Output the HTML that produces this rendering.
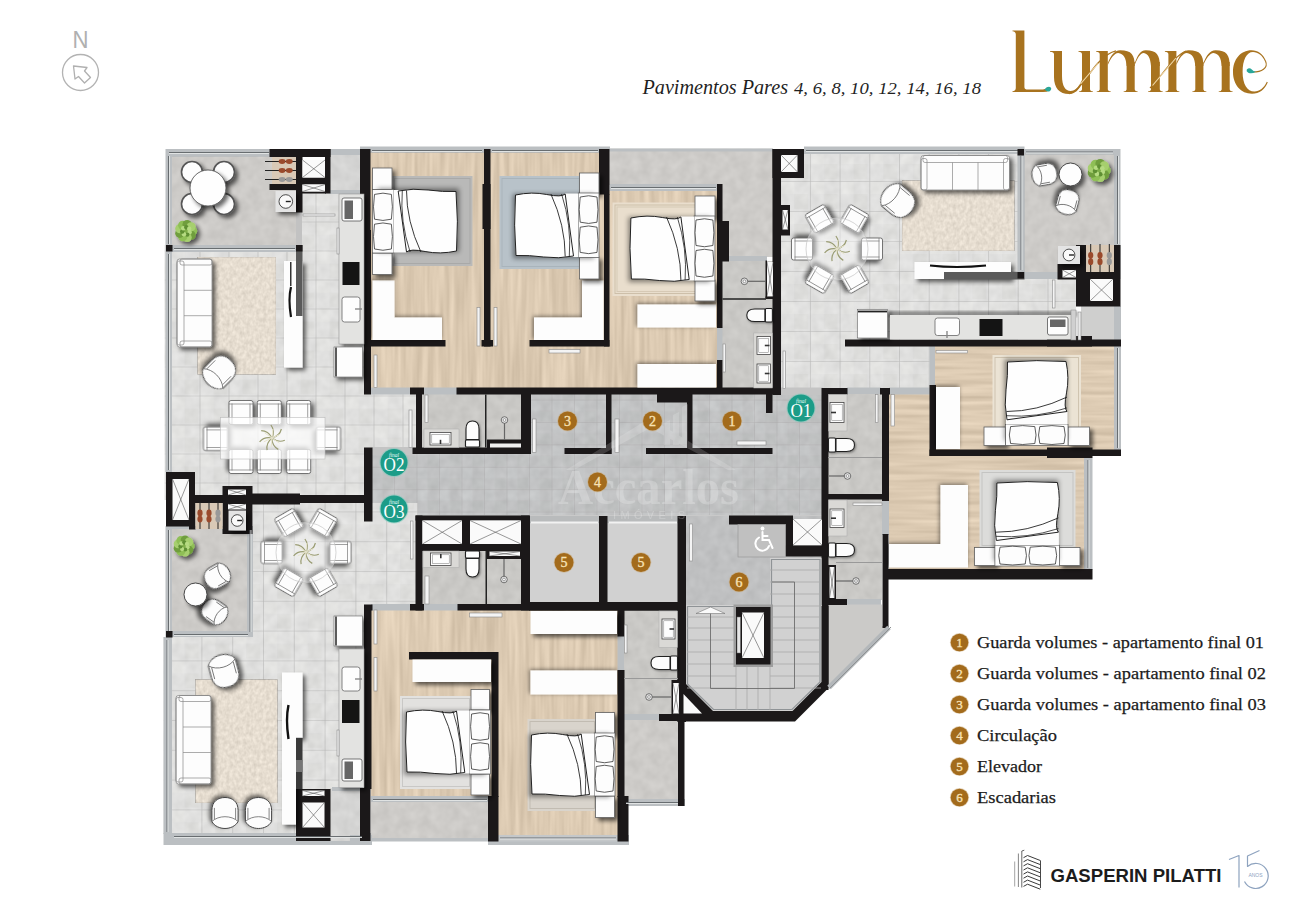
<!DOCTYPE html><html><head><meta charset="utf-8"><style>html,body{margin:0;padding:0;background:#fff;width:1300px;height:919px;overflow:hidden}svg{display:block}</style></head><body><svg width="1300" height="919" viewBox="0 0 1300 919">
<defs>
<pattern id="tile" width="29" height="29" patternUnits="userSpaceOnUse" x="170.5" y="250.5">
<rect width="29" height="29" fill="#e0e0df"/>
<rect x="1" y="1" width="13" height="12" fill="#e4e4e3" opacity=".6"/>
<rect x="14" y="13" width="14" height="15" fill="#d8d8d7" opacity=".6"/>
<path d="M0 0H29 M0 0V29" stroke="#b9b9b8" stroke-width="1.2"/>
</pattern>
<pattern id="tile1" width="29.7" height="30" patternUnits="userSpaceOnUse" x="780.2" y="151">
<rect width="29.7" height="30" fill="#e0e0df"/>
<rect x="1" y="1" width="13" height="12" fill="#e4e4e3" opacity=".6"/>
<rect x="14" y="13" width="14" height="15" fill="#d8d8d7" opacity=".6"/>
<path d="M0 0H29.7 M0 0V30" stroke="#b9b9b8" stroke-width="1.2"/>
</pattern>
<pattern id="tile3" width="30.8" height="29.8" patternUnits="userSpaceOnUse" x="170.6" y="511.4">
<rect width="30.8" height="29.8" fill="#e0e0df"/>
<rect x="1" y="1" width="13" height="12" fill="#e4e4e3" opacity=".6"/>
<rect x="14" y="13" width="14" height="15" fill="#d8d8d7" opacity=".6"/>
<path d="M0 0H30.8 M0 0V29.8" stroke="#b9b9b8" stroke-width="1.2"/>
</pattern>
<pattern id="tileC" width="22.5" height="22.4" patternUnits="userSpaceOnUse" x="371.5" y="399.6">
<rect width="22.5" height="22.4" fill="#c1c2c3"/>
<rect x="1" y="1" width="10" height="10" fill="#c7c8c9" opacity=".6"/>
<rect x="11" y="11" width="11" height="11" fill="#bbbcbd" opacity=".6"/>
<path d="M0 0H22.5M0 0V22.4" stroke="#acadae" stroke-width=".9"/>
</pattern>
<pattern id="rug" width="6" height="9" patternUnits="userSpaceOnUse">
<rect width="6" height="9" fill="#e5d9c7"/>
<rect x="1" y="1" width="1.5" height="4" fill="#ede4d6"/>
<rect x="4" y="4" width="1.2" height="4" fill="#dccdb7"/>
</pattern>
<filter id="sh" x="-30%" y="-30%" width="170%" height="170%">
<feGaussianBlur in="SourceAlpha" stdDeviation="2.2"/>
<feOffset dx="2.5" dy="2.5"/>
<feComponentTransfer><feFuncA type="linear" slope=".6"/></feComponentTransfer>
<feMerge><feMergeNode/><feMergeNode in="SourceGraphic"/></feMerge>
</filter>
<filter id="shs" x="-30%" y="-30%" width="170%" height="170%">
<feGaussianBlur in="SourceAlpha" stdDeviation="1.2"/>
<feOffset dx="1" dy="1"/>
<feComponentTransfer><feFuncA type="linear" slope=".4"/></feComponentTransfer>
<feMerge><feMergeNode/><feMergeNode in="SourceGraphic"/></feMerge>
</filter>
<filter id="sh2" x="-30%" y="-30%" width="170%" height="170%">
<feGaussianBlur in="SourceAlpha" stdDeviation="2.2"/>
<feOffset dx="-1.5" dy="-1.500000"/>
<feComponentTransfer><feFuncA type="linear" slope=".5"/></feComponentTransfer>
<feMerge><feMergeNode/><feMergeNode in="SourceGraphic"/></feMerge>
</filter>
<filter id="grain" x="0" y="0" width="100%" height="100%" color-interpolation-filters="sRGB">
<feTurbulence type="fractalNoise" baseFrequency="0.2 0.012" numOctaves="2" seed="4" result="t"/>
<feColorMatrix in="t" type="matrix" values="1 0 0 0 0 1 0 0 0 0 1 0 0 0 0 0 0 0 0 1" result="g"/>
<feComposite in="SourceGraphic" in2="g" operator="arithmetic" k1="0" k2="1" k3=".17" k4="-.085" result="c"/>
<feComposite in="c" in2="SourceGraphic" operator="in"/>
</filter>
<filter id="grainH" x="0" y="0" width="100%" height="100%" color-interpolation-filters="sRGB">
<feTurbulence type="fractalNoise" baseFrequency="0.012 0.2" numOctaves="2" seed="7" result="t"/>
<feColorMatrix in="t" type="matrix" values="1 0 0 0 0 1 0 0 0 0 1 0 0 0 0 0 0 0 0 1" result="g"/>
<feComposite in="SourceGraphic" in2="g" operator="arithmetic" k1="0" k2="1" k3=".17" k4="-.085" result="c"/>
<feComposite in="c" in2="SourceGraphic" operator="in"/>
</filter>
<filter id="mott" x="0" y="0" width="100%" height="100%" color-interpolation-filters="sRGB">
<feTurbulence type="fractalNoise" baseFrequency="0.1 0.1" numOctaves="2" seed="9" result="t"/>
<feColorMatrix in="t" type="matrix" values="1 0 0 0 0 1 0 0 0 0 1 0 0 0 0 0 0 0 0 1" result="g"/>
<feComposite in="SourceGraphic" in2="g" operator="arithmetic" k1="0" k2="1" k3=".08" k4="-.04" result="c"/>
<feComposite in="c" in2="SourceGraphic" operator="in"/>
</filter>
<filter id="rugf" x="0" y="0" width="100%" height="100%" color-interpolation-filters="sRGB">
<feTurbulence type="fractalNoise" baseFrequency="0.3 0.22" numOctaves="2" seed="2" result="t"/>
<feColorMatrix in="t" type="matrix" values="1 0 0 0 0 1 0 0 0 0 1 0 0 0 0 0 0 0 0 1" result="g"/>
<feComposite in="SourceGraphic" in2="g" operator="arithmetic" k1="0" k2="1" k3=".16" k4="-.08" result="c"/>
<feComposite in="c" in2="SourceGraphic" operator="in"/>
</filter>
<filter id="blur1"><feGaussianBlur stdDeviation="1.2"/></filter>
<filter id="blur2"><feGaussianBlur stdDeviation="2.5"/></filter>
</defs>
<rect width="1300" height="919" fill="#fff"/>

<rect x="165.5" y="149.0" width="136.5" height="103.0" fill="#bbbfc2" />
<rect x="172.0" y="156.5" width="124.0" height="88.5" fill="#cdcbc8" filter="url(#mott)"/>
<rect x="296.0" y="212.0" width="6.0" height="33.0" fill="#c2c2c2" />
<rect x="164.5" y="245.0" width="199.5" height="255.0" fill="url(#tile)" filter="url(#mott)"/>
<rect x="302.0" y="190.0" width="62.0" height="56.0" fill="url(#tile)" filter="url(#mott)"/>
<rect x="364.0" y="394.0" width="54.0" height="55.0" fill="url(#tile)" filter="url(#mott)"/>
<rect x="165.5" y="252.0" width="6.5" height="220.0" fill="#bbbfc2" />
<rect x="165.5" y="245.0" width="136.5" height="7.0" fill="#bbbfc2" />
<rect x="330.0" y="149.0" width="31.0" height="42.0" fill="#d4d4d3" filter="url(#mott)"/>
<rect x="330.0" y="149.0" width="31.0" height="6.0" fill="#bbbfc2" />
<rect x="330.0" y="190.0" width="31.0" height="4.0" fill="#bbbfc2" />
<rect x="360.0" y="146.5" width="250.0" height="6.5" fill="#bbbfc2" />
<rect x="370.0" y="152.5" width="114.0" height="194.5" fill="#dccab2" filter="url(#grain)"/>
<rect x="490.0" y="152.5" width="114.0" height="194.5" fill="#dccab2" filter="url(#grain)"/>
<rect x="370.0" y="345.0" width="350.0" height="43.5" fill="#dccab2" filter="url(#grain)"/>
<rect x="609.0" y="190.0" width="109.0" height="156.0" fill="#dccab2" filter="url(#grain)"/>
<rect x="609.0" y="148.5" width="164.0" height="36.5" fill="#cdcbc8" filter="url(#mott)"/>
<rect x="609.0" y="148.5" width="164.0" height="3.0" fill="#bbbfc2" />
<rect x="722.0" y="184.0" width="51.0" height="73.0" fill="#cdcbc8" filter="url(#mott)"/>
<rect x="609.5" y="184.0" width="107.5" height="7.0" fill="#bbbfc2" />
<rect x="722.0" y="256.0" width="45.0" height="5.5" fill="#bbbfc2" />
<rect x="722.0" y="261.0" width="51.0" height="127.0" fill="#c9c8c5" filter="url(#mott)"/>
<rect x="717.0" y="327.0" width="5.5" height="34.0" fill="#bbbfc2" />
<rect x="422.0" y="394.0" width="99.0" height="54.0" fill="#c9c8c5" filter="url(#mott)"/>
<rect x="371.0" y="387.5" width="39.0" height="7.0" fill="#bbbfc2" />
<rect x="424.0" y="387.5" width="33.0" height="7.0" fill="#bbbfc2" />
<rect x="372.0" y="454.0" width="451.0" height="62.0" fill="url(#tileC)" filter="url(#mott)"/>
<rect x="531.0" y="394.0" width="292.0" height="61.0" fill="url(#tileC)" filter="url(#mott)"/>
<rect x="372.0" y="515.0" width="451.0" height="6.0" fill="#c9c9c9" />
<rect x="372.0" y="447.0" width="41.0" height="8.0" fill="#c4c4c4" />
<rect x="686.0" y="516.0" width="136.0" height="90.0" fill="#bfc0c1" filter="url(#mott)"/>
<rect x="804.0" y="146.5" width="220.5" height="8.0" fill="#bbbfc2" />
<rect x="781.0" y="154.0" width="237.0" height="187.0" fill="url(#tile1)" filter="url(#mott)"/>
<rect x="1017.5" y="279.0" width="58.5" height="37.0" fill="url(#tile1)" filter="url(#mott)"/>
<rect x="781.0" y="340.0" width="149.0" height="48.5" fill="url(#tile1)" filter="url(#mott)"/>
<rect x="1017.5" y="149.0" width="103.0" height="130.0" fill="#bbbfc2" />
<rect x="1024.5" y="154.5" width="89.5" height="117.5" fill="#cdcbc8" filter="url(#mott)"/>
<rect x="1081.0" y="306.0" width="40.0" height="35.0" fill="#cfcfce" />
<rect x="1114.0" y="306.0" width="7.0" height="35.0" fill="#bbbfc2" />
<rect x="929.5" y="346.0" width="5.5" height="40.0" fill="#bbbfc2" />
<rect x="935.0" y="346.0" width="179.0" height="104.0" fill="#dccab2" filter="url(#grainH)"/>
<rect x="1114.0" y="346.0" width="7.0" height="104.0" fill="#bbbfc2" />
<rect x="889.0" y="394.0" width="41.0" height="63.0" fill="#dccab2" filter="url(#grainH)"/>
<rect x="889.0" y="455.0" width="196.0" height="115.0" fill="#dccab2" filter="url(#grainH)"/>
<rect x="1084.0" y="458.0" width="8.5" height="112.0" fill="#bbbfc2" />
<rect x="847.0" y="387.5" width="34.0" height="7.0" fill="#bbbfc2" />
<rect x="781.0" y="387.5" width="42.0" height="7.5" fill="#c4c4c4" />
<rect x="889.0" y="387.5" width="41.0" height="7.0" fill="#bbbfc2" />
<rect x="828.0" y="394.0" width="54.0" height="101.0" fill="#c9c8c5" filter="url(#mott)"/>
<rect x="828.0" y="499.0" width="54.0" height="101.0" fill="#c9c8c5" filter="url(#mott)"/>
<rect x="882.0" y="500.0" width="7.0" height="35.0" fill="#bbbfc2" />
<rect x="847.0" y="599.0" width="34.0" height="6.0" fill="#bbbfc2" />
<polygon points="828.0,604.5 882.0,604.5 882.0,626.0 889.0,626.0 828.0,687.0" fill="#cbcac8" />
<rect x="165.5" y="526.0" width="87.5" height="111.5" fill="#bbbfc2" />
<rect x="172.0" y="529.0" width="75.0" height="102.0" fill="#cdcbc8" filter="url(#mott)"/>
<rect x="253.0" y="503.0" width="165.0" height="103.0" fill="url(#tile3)" filter="url(#mott)"/>
<rect x="253.0" y="606.0" width="111.0" height="34.0" fill="url(#tile3)" filter="url(#mott)"/>
<rect x="163.5" y="637.0" width="200.5" height="197.0" fill="url(#tile3)" filter="url(#mott)"/>
<rect x="163.5" y="637.0" width="8.5" height="197.0" fill="#bbbfc2" />
<rect x="163.5" y="833.0" width="208.5" height="12.0" fill="#bbbfc2" />
<rect x="330.0" y="788.0" width="31.0" height="53.0" fill="#d4d4d3" filter="url(#mott)"/>
<rect x="332.0" y="787.0" width="30.0" height="4.0" fill="#bbbfc2" />
<rect x="371.0" y="609.0" width="247.0" height="44.0" fill="#dccab2" filter="url(#grain)"/>
<rect x="371.0" y="609.0" width="121.0" height="188.0" fill="#dccab2" filter="url(#grain)"/>
<rect x="498.0" y="609.0" width="120.0" height="227.0" fill="#dccab2" filter="url(#grain)"/>
<rect x="371.0" y="796.0" width="117.0" height="7.0" fill="#bbbfc2" />
<rect x="371.0" y="802.0" width="117.0" height="37.0" fill="#cdcbc8" filter="url(#mott)"/>
<rect x="371.0" y="838.0" width="117.0" height="3.5" fill="#bbbfc2" />
<rect x="350.0" y="835.0" width="22.0" height="10.0" fill="#bbbfc2" />
<rect x="488.0" y="835.0" width="141.0" height="10.0" fill="#bbbfc2" />
<rect x="498.0" y="835.0" width="120.0" height="6.5" fill="#c4c7c9" />
<rect x="422.0" y="550.0" width="99.0" height="55.0" fill="#c9c8c5" filter="url(#mott)"/>
<rect x="371.0" y="604.0" width="39.0" height="6.5" fill="#bbbfc2" />
<rect x="424.0" y="604.0" width="34.0" height="6.5" fill="#bbbfc2" />
<rect x="624.0" y="610.0" width="54.0" height="105.0" fill="#c9c8c5" filter="url(#mott)"/>
<rect x="617.5" y="636.0" width="6.5" height="35.0" fill="#bbbfc2" />
<rect x="624.0" y="714.0" width="36.0" height="6.5" fill="#bbbfc2" />
<rect x="624.0" y="720.0" width="54.0" height="80.0" fill="#cdcbc8" filter="url(#mott)"/>
<rect x="624.0" y="799.0" width="61.0" height="7.0" fill="#bbbfc2" />
<rect x="529.5" y="516.0" width="69.5" height="87.0" fill="#d1d1d1" />
<rect x="607.0" y="516.0" width="71.0" height="87.0" fill="#d1d1d1" />
<rect x="529.5" y="516.0" width="69.5" height="7.0" fill="#b9bbbc" />
<rect x="607.0" y="516.0" width="71.0" height="7.0" fill="#b9bbbc" />
<rect x="531.0" y="521.5" width="67.0" height="2.0" fill="#f2f2f2" />
<rect x="609.0" y="521.5" width="68.0" height="2.0" fill="#f2f2f2" />
<rect x="197.5" y="257.0" width="78.5" height="117.5" fill="#e6ddd0" filter="url(#rugf)" stroke="#b5b0a8" stroke-width=".6"/>
<rect x="195.5" y="679.5" width="82.0" height="123.5" fill="#e6ddd0" filter="url(#rugf)" stroke="#b5b0a8" stroke-width=".6"/>
<rect x="902.0" y="180.5" width="112.5" height="70.5" fill="#e6ddd0" filter="url(#rugf)" stroke="#b5b0a8" stroke-width=".6"/>
<rect x="392.0" y="176.0" width="80.5" height="90.0" fill="#b9b9b8" />
<rect x="394.5" y="178.5" width="75.5" height="85.0" fill="none" stroke="#a9a9a8" stroke-width="1"/>
<rect x="499.5" y="176.0" width="82.5" height="93.0" fill="#b8c2c9" />
<rect x="502.0" y="178.5" width="77.5" height="88.0" fill="none" stroke="#a9b4bb" stroke-width="1"/>
<rect x="612.5" y="202.5" width="102.5" height="93.5" fill="#e9decd" />
<rect x="615.0" y="205.0" width="97.5" height="88.5" fill="none" stroke="#cdbfa9" stroke-width="1"/>
<rect x="617" y="207" width="96" height="84.500000" fill="none" stroke="#d6c9b5" stroke-width="1"/>
<rect x="992.5" y="355.0" width="88.5" height="90.0" fill="#ebe3d4" />
<rect x="995.0" y="357.5" width="83.5" height="85.0" fill="none" stroke="#cfc4b0" stroke-width="1"/>
<rect x="979.5" y="470.0" width="96.0" height="78.0" fill="#dcdcda" />
<rect x="982.0" y="472.5" width="91.0" height="73.0" fill="none" stroke="#c4c4c2" stroke-width="1"/>
<rect x="400.0" y="696.0" width="72.0" height="93.0" fill="#e2e1df" />
<rect x="402.5" y="698.5" width="67.0" height="88.0" fill="none" stroke="#c9c8c6" stroke-width="1"/>
<rect x="527.5" y="719.0" width="69.5" height="92.0" fill="#d9d4cc" />
<rect x="530.0" y="721.5" width="64.5" height="87.0" fill="none" stroke="#c2bcb2" stroke-width="1"/>
<rect x="269.5" y="149.0" width="61.0" height="8.0" fill="#1b1819" />
<rect x="296.0" y="149.0" width="6.5" height="63.5" fill="#1b1819" />
<rect x="325.0" y="149.0" width="5.5" height="44.5" fill="#1b1819" />
<rect x="296.0" y="177.5" width="34.0" height="7.0" fill="#1b1819" />
<rect x="269.5" y="184.0" width="27.5" height="6.0" fill="#1b1819" />
<rect x="302.0" y="191.5" width="24.0" height="2.0" fill="#1b1819" />
<rect x="360.0" y="149.0" width="10.5" height="83.0" fill="#1b1819" />
<rect x="364.0" y="230.0" width="7.0" height="164.5" fill="#1b1819" />
<rect x="364.0" y="340.0" width="81.5" height="6.5" fill="#1b1819" />
<rect x="484.0" y="149.0" width="6.5" height="197.5" fill="#1b1819" />
<rect x="482.5" y="184.0" width="8.0" height="45.0" fill="#1b1819" />
<rect x="481.5" y="340.0" width="11.5" height="6.5" fill="#1b1819" />
<rect x="599.0" y="149.0" width="10.5" height="45.5" fill="#1b1819" />
<rect x="604.0" y="194.0" width="5.5" height="152.5" fill="#1b1819" />
<rect x="529.5" y="340.0" width="80.0" height="6.5" fill="#1b1819" />
<rect x="717.0" y="184.0" width="5.5" height="144.0" fill="#1b1819" />
<rect x="722.0" y="221.0" width="7.0" height="40.5" fill="#1b1819" />
<rect x="717.0" y="360.0" width="5.5" height="28.0" fill="#1b1819" />
<rect x="772.5" y="149.0" width="8.5" height="246.0" fill="#1b1819" />
<rect x="772.5" y="149.0" width="31.5" height="29.0" fill="#1b1819" />
<rect x="781.0" y="205.0" width="9.0" height="30.5" fill="#1b1819" />
<rect x="410.0" y="387.5" width="14.0" height="7.0" fill="#1b1819" />
<rect x="456.5" y="387.5" width="324.5" height="7.0" fill="#1b1819" />
<rect x="416.0" y="394.0" width="6.0" height="60.0" fill="#1b1819" />
<rect x="412.5" y="447.5" width="118.5" height="6.5" fill="#1b1819" />
<rect x="521.0" y="394.0" width="10.0" height="59.5" fill="#1b1819" />
<rect x="364.0" y="447.5" width="8.5" height="74.0" fill="#1b1819" />
<rect x="606.0" y="394.0" width="5.5" height="60.0" fill="#1b1819" />
<rect x="564.5" y="448.0" width="47.0" height="6.0" fill="#1b1819" />
<rect x="687.0" y="394.0" width="5.5" height="60.0" fill="#1b1819" />
<rect x="657.0" y="394.0" width="34.0" height="8.5" fill="#1b1819" />
<rect x="646.0" y="448.0" width="126.5" height="6.0" fill="#1b1819" />
<rect x="766.0" y="394.0" width="6.5" height="19.0" fill="#1b1819" />
<rect x="190.0" y="495.0" width="174.5" height="8.0" fill="#1b1819" />
<rect x="252.0" y="493.5" width="48.0" height="11.0" fill="#1b1819" />
<rect x="166.0" y="472.0" width="29.0" height="54.5" fill="#1b1819" />
<rect x="222.5" y="486.0" width="30.0" height="48.0" fill="#1b1819" />
<rect x="189.0" y="503.0" width="6.5" height="26.5" fill="#1b1819" />
<rect x="845.0" y="339.5" width="276.0" height="7.0" fill="#1b1819" />
<rect x="1047.0" y="336.0" width="45.0" height="10.5" fill="#1b1819" />
<rect x="1076.0" y="245.0" width="44.5" height="61.5" fill="#1b1819" />
<rect x="1057.5" y="264.0" width="19.5" height="15.5" fill="#1b1819" />
<rect x="822.5" y="388.0" width="25.0" height="6.5" fill="#1b1819" />
<rect x="880.0" y="388.0" width="10.0" height="6.5" fill="#1b1819" />
<rect x="929.5" y="385.0" width="6.5" height="71.0" fill="#1b1819" />
<rect x="821.5" y="388.0" width="7.0" height="302.0" fill="#1b1819" />
<rect x="882.0" y="388.0" width="7.0" height="113.0" fill="#1b1819" />
<rect x="882.5" y="534.0" width="6.0" height="94.0" fill="#1b1819" />
<rect x="828.0" y="494.0" width="54.0" height="5.5" fill="#1b1819" />
<rect x="929.5" y="449.5" width="191.5" height="6.5" fill="#1b1819" />
<rect x="1047.0" y="447.5" width="45.5" height="10.5" fill="#1b1819" />
<rect x="888.0" y="569.0" width="204.5" height="10.5" fill="#1b1819" />
<rect x="729.0" y="515.5" width="64.0" height="9.0" fill="#1b1819" />
<rect x="785.5" y="516.0" width="7.5" height="40.0" fill="#1b1819" />
<rect x="785.5" y="545.5" width="42.5" height="11.0" fill="#1b1819" />
<rect x="828.0" y="599.0" width="19.0" height="6.0" fill="#1b1819" />
<rect x="828.0" y="565.0" width="8.0" height="34.5" fill="#1b1819" />
<rect x="364.0" y="605.0" width="7.5" height="184.0" fill="#1b1819" />
<rect x="364.0" y="604.5" width="8.5" height="6.0" fill="#1b1819" />
<rect x="360.0" y="788.0" width="10.5" height="53.0" fill="#1b1819" />
<rect x="410.0" y="604.0" width="14.0" height="6.5" fill="#1b1819" />
<rect x="457.5" y="604.0" width="228.5" height="6.5" fill="#1b1819" />
<rect x="415.5" y="515.5" width="7.0" height="95.0" fill="#1b1819" />
<rect x="415.5" y="515.5" width="114.0" height="5.0" fill="#1b1819" />
<rect x="462.0" y="516.0" width="8.0" height="35.0" fill="#1b1819" />
<rect x="416.0" y="544.0" width="113.0" height="7.0" fill="#1b1819" />
<rect x="521.0" y="515.5" width="9.0" height="95.0" fill="#1b1819" />
<rect x="599.0" y="516.0" width="8.5" height="94.0" fill="#1b1819" />
<rect x="677.5" y="516.0" width="8.5" height="206.0" fill="#1b1819" />
<rect x="529.0" y="602.0" width="157.0" height="8.5" fill="#1b1819" />
<rect x="409.0" y="652.0" width="89.0" height="7.5" fill="#1b1819" />
<rect x="491.5" y="652.0" width="7.0" height="145.0" fill="#1b1819" />
<rect x="488.0" y="796.0" width="10.5" height="45.5" fill="#1b1819" />
<rect x="617.5" y="610.0" width="7.0" height="26.5" fill="#1b1819" />
<rect x="617.5" y="670.0" width="7.0" height="127.0" fill="#1b1819" />
<rect x="617.5" y="796.0" width="11.0" height="45.5" fill="#1b1819" />
<rect x="659.0" y="714.0" width="27.0" height="7.0" fill="#1b1819" />
<rect x="678.0" y="720.0" width="6.5" height="86.0" fill="#1b1819" />
<rect x="296.0" y="789.0" width="34.5" height="52.0" fill="#1b1819" />
<rect x="486.0" y="550.5" width="36.0" height="8.5" fill="#1b1819" />
<rect x="671.5" y="680.0" width="9.5" height="35.0" fill="#1b1819" />
<polygon points="677.5,606.0 677.5,721.5 795.0,721.5 828.5,688.0 828.5,606.0" fill="#1b1819" />
<polygon points="686.0,605.0 686.0,684.0 713.0,711.0 792.5,711.0 821.5,682.0 821.5,605.0" fill="#d1d1d1" />
<polygon points="770.0,558.0 821.5,558.0 821.5,606.0 770.0,606.0" fill="#d1d1d1" />
<polygon points="683.5,694.0 683.5,713.5 702.0,713.5" fill="#fafafa" />
<polygon points="687.5,606.5 687.5,684 713.5,709.5 792,709.5 820,682 820,559.5 771.5,559.5 771.5,606.5" fill="none" stroke="#8f9396" stroke-width="1.2"/>
<line x1="687.0" y1="617.0" x2="736.0" y2="617.0" stroke="#a9a9a9" stroke-width="0.80" />
<line x1="770.0" y1="617.0" x2="821.0" y2="617.0" stroke="#a9a9a9" stroke-width="0.80" />
<line x1="687.0" y1="628.0" x2="736.0" y2="628.0" stroke="#a9a9a9" stroke-width="0.80" />
<line x1="770.0" y1="628.0" x2="821.0" y2="628.0" stroke="#a9a9a9" stroke-width="0.80" />
<line x1="687.0" y1="640.0" x2="736.0" y2="640.0" stroke="#a9a9a9" stroke-width="0.80" />
<line x1="770.0" y1="640.0" x2="821.0" y2="640.0" stroke="#a9a9a9" stroke-width="0.80" />
<line x1="687.0" y1="652.0" x2="736.0" y2="652.0" stroke="#a9a9a9" stroke-width="0.80" />
<line x1="770.0" y1="652.0" x2="821.0" y2="652.0" stroke="#a9a9a9" stroke-width="0.80" />
<line x1="687.0" y1="664.0" x2="736.0" y2="664.0" stroke="#a9a9a9" stroke-width="0.80" />
<line x1="770.0" y1="664.0" x2="821.0" y2="664.0" stroke="#a9a9a9" stroke-width="0.80" />
<line x1="687.0" y1="676.0" x2="736.0" y2="676.0" stroke="#a9a9a9" stroke-width="0.80" />
<line x1="770.0" y1="676.0" x2="821.0" y2="676.0" stroke="#a9a9a9" stroke-width="0.80" />
<line x1="687.0" y1="688.0" x2="736.0" y2="688.0" stroke="#a9a9a9" stroke-width="0.80" />
<line x1="770.0" y1="688.0" x2="821.0" y2="688.0" stroke="#a9a9a9" stroke-width="0.80" />
<line x1="770.0" y1="570.0" x2="821.0" y2="570.0" stroke="#a9a9a9" stroke-width="0.80" />
<line x1="770.0" y1="582.0" x2="821.0" y2="582.0" stroke="#a9a9a9" stroke-width="0.80" />
<line x1="770.0" y1="594.0" x2="821.0" y2="594.0" stroke="#a9a9a9" stroke-width="0.80" />
<line x1="770.0" y1="606.0" x2="821.0" y2="606.0" stroke="#a9a9a9" stroke-width="0.80" />
<line x1="736.0" y1="666.0" x2="736.0" y2="710.0" stroke="#a9a9a9" stroke-width="0.80" />
<line x1="747.0" y1="666.0" x2="747.0" y2="710.0" stroke="#a9a9a9" stroke-width="0.80" />
<line x1="758.0" y1="666.0" x2="758.0" y2="710.0" stroke="#a9a9a9" stroke-width="0.80" />
<line x1="770.0" y1="666.0" x2="770.0" y2="710.0" stroke="#a9a9a9" stroke-width="0.80" />
<path d="M710.5 613V688.500000H794.500000V582H772" fill="none" stroke="#6d6d6d" stroke-width=".9"/>
<polygon points="696.0,613.5 710.5,607.0 725.0,613.5" fill="#fafafa" stroke="#777" stroke-width=".6"/>
<rect x="733.5" y="604.5" width="39.5" height="62.5" fill="#9d9d9d" />
<rect x="736.0" y="607.0" width="34.5" height="57.5" fill="#1b1819" />
<rect x="742.0" y="612.5" width="22.0" height="45.5" fill="#fafafa" />
<line x1="742.0" y1="612.5" x2="764.0" y2="658.0" stroke="#555" stroke-width="0.60" />
<line x1="742.0" y1="658.0" x2="764.0" y2="612.5" stroke="#555" stroke-width="0.60" />
<rect x="737.0" y="617.0" width="3.5" height="36.0" fill="#e6e6e6" stroke="#666" stroke-width=".5"/>
<rect x="738.0" y="524.5" width="47.5" height="32.5" fill="#c0c0c0" stroke="#999" stroke-width=".7"/>
<line x1="889" y1="627.5" x2="829" y2="687.5" stroke="#b3b7ba" stroke-width="5"/>
<line x1="891" y1="627" x2="829.500000" y2="688.500000" stroke="#8d9092" stroke-width="1"/>
<rect x="302.5" y="160.0" width="22.5" height="17.5" fill="#fafafa" />
<line x1="302.5" y1="160.0" x2="325.0" y2="177.5" stroke="#555" stroke-width="0.60" />
<line x1="302.5" y1="177.5" x2="325.0" y2="160.0" stroke="#555" stroke-width="0.60" />
<rect x="302.5" y="184.5" width="22.5" height="7.0" fill="#fafafa" />
<line x1="302.5" y1="184.5" x2="325.0" y2="191.5" stroke="#555" stroke-width="0.60" />
<line x1="302.5" y1="191.5" x2="325.0" y2="184.5" stroke="#555" stroke-width="0.60" />
<rect x="781.0" y="155.0" width="16.5" height="17.0" fill="#fafafa" />
<line x1="781.0" y1="155.0" x2="797.5" y2="172.0" stroke="#555" stroke-width="0.60" />
<line x1="781.0" y1="172.0" x2="797.5" y2="155.0" stroke="#555" stroke-width="0.60" />
<rect x="782.5" y="210.0" width="5.5" height="19.5" fill="#fafafa" />
<line x1="782.5" y1="210.0" x2="788.0" y2="229.5" stroke="#555" stroke-width="0.60" />
<line x1="782.5" y1="229.5" x2="788.0" y2="210.0" stroke="#555" stroke-width="0.60" />
<rect x="172.5" y="479.0" width="16.5" height="41.0" fill="#fafafa" />
<line x1="172.5" y1="479.0" x2="189.0" y2="520.0" stroke="#555" stroke-width="0.60" />
<line x1="172.5" y1="520.0" x2="189.0" y2="479.0" stroke="#555" stroke-width="0.60" />
<rect x="228.0" y="489.5" width="18.0" height="5.5" fill="#fafafa" />
<line x1="228.0" y1="489.5" x2="246.0" y2="495.0" stroke="#555" stroke-width="0.60" />
<line x1="228.0" y1="495.0" x2="246.0" y2="489.5" stroke="#555" stroke-width="0.60" />
<rect x="228.0" y="504.0" width="18.0" height="5.5" fill="#fafafa" />
<line x1="228.0" y1="504.0" x2="246.0" y2="509.5" stroke="#555" stroke-width="0.60" />
<line x1="228.0" y1="509.5" x2="246.0" y2="504.0" stroke="#555" stroke-width="0.60" />
<rect x="1090.0" y="279.0" width="23.0" height="22.0" fill="#fafafa" />
<line x1="1090.0" y1="279.0" x2="1113.0" y2="301.0" stroke="#555" stroke-width="0.60" />
<line x1="1090.0" y1="301.0" x2="1113.0" y2="279.0" stroke="#555" stroke-width="0.60" />
<rect x="1062.5" y="270.0" width="13.5" height="7.5" fill="#fafafa" />
<line x1="1062.5" y1="270.0" x2="1076.0" y2="277.5" stroke="#555" stroke-width="0.60" />
<line x1="1062.5" y1="277.5" x2="1076.0" y2="270.0" stroke="#555" stroke-width="0.60" />
<rect x="422.5" y="520.5" width="39.5" height="23.5" fill="#fafafa" />
<line x1="422.5" y1="520.5" x2="462.0" y2="544.0" stroke="#555" stroke-width="0.60" />
<line x1="422.5" y1="544.0" x2="462.0" y2="520.5" stroke="#555" stroke-width="0.60" />
<rect x="470.0" y="520.5" width="51.0" height="23.5" fill="#fafafa" />
<line x1="470.0" y1="520.5" x2="521.0" y2="544.0" stroke="#555" stroke-width="0.60" />
<line x1="470.0" y1="544.0" x2="521.0" y2="520.5" stroke="#555" stroke-width="0.60" />
<rect x="793.0" y="519.0" width="29.0" height="26.0" fill="#fafafa" />
<line x1="793.0" y1="519.0" x2="822.0" y2="545.0" stroke="#555" stroke-width="0.60" />
<line x1="793.0" y1="545.0" x2="822.0" y2="519.0" stroke="#555" stroke-width="0.60" />
<rect x="302.5" y="790.5" width="22.0" height="5.5" fill="#fafafa" />
<line x1="302.5" y1="790.5" x2="324.5" y2="796.0" stroke="#555" stroke-width="0.60" />
<line x1="302.5" y1="796.0" x2="324.5" y2="790.5" stroke="#555" stroke-width="0.60" />
<rect x="302.5" y="802.5" width="22.0" height="25.0" fill="#fafafa" />
<line x1="302.5" y1="802.5" x2="324.5" y2="827.5" stroke="#555" stroke-width="0.60" />
<line x1="302.5" y1="827.5" x2="324.5" y2="802.5" stroke="#555" stroke-width="0.60" />
<rect x="489.5" y="551.5" width="30.5" height="4.5" fill="#fafafa" />
<line x1="489.5" y1="551.5" x2="520.0" y2="556.0" stroke="#555" stroke-width="0.60" />
<line x1="489.5" y1="556.0" x2="520.0" y2="551.5" stroke="#555" stroke-width="0.60" />
<rect x="829.5" y="567.0" width="5.0" height="31.0" fill="#fafafa" />
<line x1="829.5" y1="567.0" x2="834.5" y2="598.0" stroke="#555" stroke-width="0.60" />
<line x1="829.5" y1="598.0" x2="834.5" y2="567.0" stroke="#555" stroke-width="0.60" />
<rect x="673.0" y="683.0" width="6.0" height="30.5" fill="#fafafa" />
<line x1="673.0" y1="683.0" x2="679.0" y2="713.5" stroke="#555" stroke-width="0.60" />
<line x1="673.0" y1="713.5" x2="679.0" y2="683.0" stroke="#555" stroke-width="0.60" />
<rect x="767.0" y="262.0" width="6.0" height="34.5" fill="#fafafa" />
<line x1="767.0" y1="262.0" x2="773.0" y2="296.5" stroke="#555" stroke-width="0.60" />
<line x1="767.0" y1="296.5" x2="773.0" y2="262.0" stroke="#555" stroke-width="0.60" />
<rect x="765.5" y="260.5" width="1.5" height="37.5" fill="#1b1819" />
<rect x="765.5" y="296.5" width="8.5" height="2.5" fill="#1b1819" />
<rect x="272.0" y="157.0" width="24.0" height="27.0" fill="#d9c9b6" />
<line x1="265.0" y1="161.5" x2="296.0" y2="161.5" stroke="#222" stroke-width="1.00" />
<ellipse cx="282.1" cy="161.5" rx="3.4" ry="2.4" fill="#9a4a2c"/>
<ellipse cx="289.3" cy="161.5" rx="3.4" ry="2.4" fill="#9a4a2c"/>
<line x1="265.0" y1="170.5" x2="296.0" y2="170.5" stroke="#222" stroke-width="1.00" />
<ellipse cx="282.1" cy="170.5" rx="3.4" ry="2.4" fill="#9a4a2c"/>
<ellipse cx="289.3" cy="170.5" rx="3.4" ry="2.4" fill="#9a4a2c"/>
<line x1="265.0" y1="179.5" x2="296.0" y2="179.5" stroke="#222" stroke-width="1.00" />
<ellipse cx="282.1" cy="179.5" rx="3.4" ry="2.4" fill="#999"/>
<ellipse cx="289.3" cy="179.5" rx="3.4" ry="2.4" fill="#999"/>
<rect x="1086.0" y="245.0" width="28.0" height="27.0" fill="#d9c9b6" />
<line x1="1090.7" y1="244.0" x2="1090.7" y2="272.0" stroke="#222" stroke-width="1.00" />
<ellipse cx="1090.7" cy="255.3" rx="2.6" ry="3.4" fill="#9a4a2c"/>
<ellipse cx="1090.7" cy="261.7" rx="2.6" ry="3.4" fill="#9a4a2c"/>
<line x1="1100.0" y1="244.0" x2="1100.0" y2="272.0" stroke="#222" stroke-width="1.00" />
<ellipse cx="1100.0" cy="255.3" rx="2.6" ry="3.4" fill="#9a4a2c"/>
<ellipse cx="1100.0" cy="261.7" rx="2.6" ry="3.4" fill="#9a4a2c"/>
<line x1="1109.3" y1="244.0" x2="1109.3" y2="272.0" stroke="#222" stroke-width="1.00" />
<ellipse cx="1109.3" cy="255.3" rx="2.6" ry="3.4" fill="#999"/>
<ellipse cx="1109.3" cy="261.7" rx="2.6" ry="3.4" fill="#999"/>
<rect x="195.5" y="503.0" width="27.0" height="26.0" fill="#d9c9b6" />
<line x1="200.0" y1="502.0" x2="200.0" y2="529.0" stroke="#222" stroke-width="1.00" />
<ellipse cx="200.0" cy="512.9" rx="2.6" ry="3.4" fill="#9a4a2c"/>
<ellipse cx="200.0" cy="519.1" rx="2.6" ry="3.4" fill="#9a4a2c"/>
<line x1="209.0" y1="502.0" x2="209.0" y2="529.0" stroke="#222" stroke-width="1.00" />
<ellipse cx="209.0" cy="512.9" rx="2.6" ry="3.4" fill="#9a4a2c"/>
<ellipse cx="209.0" cy="519.1" rx="2.6" ry="3.4" fill="#9a4a2c"/>
<line x1="218.0" y1="502.0" x2="218.0" y2="529.0" stroke="#222" stroke-width="1.00" />
<ellipse cx="218.0" cy="512.9" rx="2.6" ry="3.4" fill="#999"/>
<ellipse cx="218.0" cy="519.1" rx="2.6" ry="3.4" fill="#999"/>
<g filter="url(#sh)">
<rect x="275.5" y="191.0" width="20.5" height="21.0" fill="#e4e4e4" />
</g>
<circle cx="285.8" cy="201.5" r="6.8" fill="#fafafa" stroke="#222" stroke-width=".8"/>
<line x1="285.8" y1="201.5" x2="290.8" y2="201.5" stroke="#222" stroke-width="1.40" />
<g filter="url(#sh)">
<rect x="1058.0" y="246.0" width="22.0" height="18.0" fill="#e4e4e4" />
</g>
<circle cx="1069.0" cy="255.0" r="5.9" fill="#fafafa" stroke="#222" stroke-width=".8"/>
<line x1="1069.0" y1="255.0" x2="1074.0" y2="255.0" stroke="#222" stroke-width="1.40" />
<g filter="url(#sh)">
<rect x="228.5" y="510.5" width="17.5" height="20.0" fill="#e4e4e4" />
</g>
<circle cx="237.2" cy="520.5" r="5.8" fill="#fafafa" stroke="#222" stroke-width=".8"/>
<line x1="237.2" y1="520.5" x2="242.2" y2="520.5" stroke="#222" stroke-width="1.40" />
<polygon points="372.5,280.5 394.5,280.5 394.5,317.5 442.0,317.5 442.0,340.0 372.5,340.0" fill="#fdfdfd" filter="url(#sh2)"/>
<polygon points="582.0,280.5 603.5,280.5 603.5,340.0 534.0,340.0 534.0,317.5 582.0,317.5" fill="#fdfdfd" filter="url(#sh2)"/>
<polygon points="940.5,485.0 968.0,485.0 968.0,567.5 889.0,567.5 889.0,544.0 940.5,544.0" fill="#fdfdfd" filter="url(#sh2)"/>
<rect x="637.5" y="304.5" width="78.5" height="23.0" fill="#fdfdfd" filter="url(#sh2)" />
<rect x="637.5" y="364.0" width="78.5" height="23.5" fill="#fdfdfd" filter="url(#sh2)" />
<rect x="936.0" y="387.0" width="24.0" height="62.0" fill="#fdfdfd" filter="url(#sh2)" />
<rect x="412.5" y="659.5" width="78.5" height="22.5" fill="#fdfdfd" filter="url(#sh)" />
<rect x="530.5" y="611.0" width="86.5" height="23.0" fill="#fdfdfd" filter="url(#sh)" />
<rect x="530.5" y="670.5" width="86.5" height="24.0" fill="#fdfdfd" filter="url(#sh2)" />
<rect x="372.5" y="168.0" width="19.5" height="21.5" fill="#fdfdfd" filter="url(#sh)" stroke="#5e5e5e" stroke-width=".8"/>
<rect x="372.5" y="253.0" width="19.5" height="21.5" fill="#fdfdfd" filter="url(#sh)" stroke="#5e5e5e" stroke-width=".8"/>
<g transform="translate(415.2 221.2) rotate(180) translate(-42.8 -31.8)">
<rect x="-1" y="1" width="81.5" height="63.5" fill="#000" opacity=".45" filter="url(#blur2)"/>
<rect x="64.6" y="0" width="20.9" height="63.5" fill="#fdfdfd" stroke="#555" stroke-width=".7"/>
<rect x="51.3" y="0.5" width="13.3" height="62.5" fill="#fdfdfd"/>
<path d="M66.6 4.0 q8.5 -2.5 16.9 0 q2 12.4 0 24.8 q-8.5 2.500000 -16.9 0 q-2 -12.4 0 -24.8 z" fill="#fdfdfd" stroke="#333" stroke-width=".8"/>
<path d="M66.6 33.8 q8.5 -2.5 16.9 0 q2 12.4 0 24.8 q-8.5 2.500000 -16.9 0 q-2 -12.4 0 -24.8 z" fill="#fdfdfd" stroke="#333" stroke-width=".8"/>
<path d="M1.5 2 Q18.0 -1.5 32.9 1.5 T51.5 1 L59.8 62.0 Q44.9 65.0 29.9 63.0 T2 61.5 Q-.5 31.8 1.5 2z" fill="#fefefe" stroke="#222" stroke-width="1"/>
<path d="M37.1 1 Q51.5 31.8 51.5 62.5" fill="none" stroke="#222" stroke-width=".9"/>
<path d="M47.9 1 Q58.1 31.8 55.7 62.5" fill="none" stroke="#222" stroke-width=".8"/>
</g>
<rect x="579.5" y="173.0" width="19.5" height="21.0" fill="#fdfdfd" filter="url(#sh)" stroke="#5e5e5e" stroke-width=".8"/>
<rect x="579.5" y="257.0" width="19.5" height="22.0" fill="#fdfdfd" filter="url(#sh)" stroke="#5e5e5e" stroke-width=".8"/>
<g transform="translate(556.5 225.2) rotate(0) translate(-42.5 -32.2)">
<rect x="-1" y="1" width="81.0" height="64.5" fill="#000" opacity=".45" filter="url(#blur2)"/>
<rect x="64.2" y="0" width="20.8" height="64.5" fill="#fdfdfd" stroke="#555" stroke-width=".7"/>
<rect x="51.0" y="0.5" width="13.2" height="63.5" fill="#fdfdfd"/>
<path d="M66.2 4.0 q8.4 -2.5 16.8 0 q2 12.6 0 25.2 q-8.4 2.500000 -16.8 0 q-2 -12.6 0 -25.2 z" fill="#fdfdfd" stroke="#333" stroke-width=".8"/>
<path d="M66.2 34.2 q8.4 -2.5 16.8 0 q2 12.6 0 25.2 q-8.4 2.500000 -16.8 0 q-2 -12.6 0 -25.2 z" fill="#fdfdfd" stroke="#333" stroke-width=".8"/>
<path d="M1.5 2 Q17.8 -1.5 32.7 1.5 T51.2 1 L59.5 63.0 Q44.6 66.0 29.7 64.0 T2 62.5 Q-.5 32.2 1.5 2z" fill="#fefefe" stroke="#222" stroke-width="1"/>
<path d="M36.9 1 Q51.2 32.2 51.2 63.5" fill="none" stroke="#222" stroke-width=".9"/>
<path d="M47.6 1 Q57.7 32.2 55.3 63.5" fill="none" stroke="#222" stroke-width=".8"/>
</g>
<rect x="695.0" y="196.0" width="20.0" height="21.5" fill="#fdfdfd" filter="url(#sh)" stroke="#5e5e5e" stroke-width=".8"/>
<rect x="695.0" y="280.0" width="20.0" height="21.0" fill="#fdfdfd" filter="url(#sh)" stroke="#5e5e5e" stroke-width=".8"/>
<g transform="translate(672.2 248.5) rotate(0) translate(-42.8 -32.5)">
<rect x="-1" y="1" width="81.5" height="65.0" fill="#000" opacity=".45" filter="url(#blur2)"/>
<rect x="64.6" y="0" width="20.9" height="65.0" fill="#fdfdfd" stroke="#555" stroke-width=".7"/>
<rect x="51.3" y="0.5" width="13.3" height="64.0" fill="#fdfdfd"/>
<path d="M66.6 4.0 q8.5 -2.5 16.9 0 q2 12.8 0 25.5 q-8.5 2.500000 -16.9 0 q-2 -12.8 0 -25.5 z" fill="#fdfdfd" stroke="#333" stroke-width=".8"/>
<path d="M66.6 34.5 q8.5 -2.5 16.9 0 q2 12.8 0 25.5 q-8.5 2.500000 -16.9 0 q-2 -12.8 0 -25.5 z" fill="#fdfdfd" stroke="#333" stroke-width=".8"/>
<path d="M1.5 2 Q18.0 -1.5 32.9 1.5 T51.5 1 L59.8 63.5 Q44.9 66.5 29.9 64.5 T2 63.0 Q-.5 32.5 1.5 2z" fill="#fefefe" stroke="#222" stroke-width="1"/>
<path d="M37.1 1 Q51.5 32.5 51.5 64.0" fill="none" stroke="#222" stroke-width=".9"/>
<path d="M47.9 1 Q58.1 32.5 55.7 64.0" fill="none" stroke="#222" stroke-width=".8"/>
</g>
<rect x="984.0" y="427.0" width="21.5" height="18.5" fill="#fdfdfd" filter="url(#sh)" stroke="#5e5e5e" stroke-width=".8"/>
<rect x="1068.0" y="427.0" width="21.5" height="18.5" fill="#fdfdfd" filter="url(#sh)" stroke="#5e5e5e" stroke-width=".8"/>
<g transform="translate(1036.8 402.8) rotate(90) translate(-42.8 -31.2)">
<rect x="-1" y="1" width="81.5" height="62.5" fill="#000" opacity=".45" filter="url(#blur2)"/>
<rect x="64.6" y="0" width="20.9" height="62.5" fill="#fdfdfd" stroke="#555" stroke-width=".7"/>
<rect x="51.3" y="0.5" width="13.3" height="61.5" fill="#fdfdfd"/>
<path d="M66.6 4.0 q8.5 -2.5 16.9 0 q2 12.1 0 24.2 q-8.5 2.500000 -16.9 0 q-2 -12.1 0 -24.2 z" fill="#fdfdfd" stroke="#333" stroke-width=".8"/>
<path d="M66.6 33.2 q8.5 -2.5 16.9 0 q2 12.1 0 24.2 q-8.5 2.500000 -16.9 0 q-2 -12.1 0 -24.2 z" fill="#fdfdfd" stroke="#333" stroke-width=".8"/>
<path d="M1.5 2 Q18.0 -1.5 32.9 1.5 T51.5 1 L59.8 61.0 Q44.9 64.0 29.9 62.0 T2 60.5 Q-.5 31.2 1.5 2z" fill="#fefefe" stroke="#222" stroke-width="1"/>
<path d="M37.1 1 Q51.5 31.2 51.5 61.5" fill="none" stroke="#222" stroke-width=".9"/>
<path d="M47.9 1 Q58.1 31.2 55.7 61.5" fill="none" stroke="#222" stroke-width=".8"/>
</g>
<rect x="974.5" y="547.5" width="21.0" height="18.0" fill="#fdfdfd" filter="url(#sh)" stroke="#5e5e5e" stroke-width=".8"/>
<rect x="1059.0" y="547.5" width="21.0" height="18.0" fill="#fdfdfd" filter="url(#sh)" stroke="#5e5e5e" stroke-width=".8"/>
<g transform="translate(1027.2 523.5) rotate(90) translate(-42.5 -32.2)">
<rect x="-1" y="1" width="81.0" height="64.5" fill="#000" opacity=".45" filter="url(#blur2)"/>
<rect x="64.2" y="0" width="20.8" height="64.5" fill="#fdfdfd" stroke="#555" stroke-width=".7"/>
<rect x="51.0" y="0.5" width="13.2" height="63.5" fill="#fdfdfd"/>
<path d="M66.2 4.0 q8.4 -2.5 16.8 0 q2 12.6 0 25.2 q-8.4 2.500000 -16.8 0 q-2 -12.6 0 -25.2 z" fill="#fdfdfd" stroke="#333" stroke-width=".8"/>
<path d="M66.2 34.2 q8.4 -2.5 16.8 0 q2 12.6 0 25.2 q-8.4 2.500000 -16.8 0 q-2 -12.6 0 -25.2 z" fill="#fdfdfd" stroke="#333" stroke-width=".8"/>
<path d="M1.5 2 Q17.8 -1.5 32.7 1.5 T51.2 1 L59.5 63.0 Q44.6 66.0 29.7 64.0 T2 62.5 Q-.5 32.2 1.5 2z" fill="#fefefe" stroke="#222" stroke-width="1"/>
<path d="M36.9 1 Q51.2 32.2 51.2 63.5" fill="none" stroke="#222" stroke-width=".9"/>
<path d="M47.6 1 Q57.7 32.2 55.3 63.5" fill="none" stroke="#222" stroke-width=".8"/>
</g>
<rect x="471.0" y="689.5" width="18.5" height="20.5" fill="#fdfdfd" filter="url(#sh)" stroke="#5e5e5e" stroke-width=".8"/>
<rect x="471.0" y="774.0" width="18.5" height="21.0" fill="#fdfdfd" filter="url(#sh)" stroke="#5e5e5e" stroke-width=".8"/>
<g transform="translate(447.8 742.0) rotate(0) translate(-42.8 -32.0)">
<rect x="-1" y="1" width="81.5" height="64.0" fill="#000" opacity=".45" filter="url(#blur2)"/>
<rect x="64.6" y="0" width="20.9" height="64.0" fill="#fdfdfd" stroke="#555" stroke-width=".7"/>
<rect x="51.3" y="0.5" width="13.3" height="63.0" fill="#fdfdfd"/>
<path d="M66.6 4.0 q8.5 -2.5 16.9 0 q2 12.5 0 25.0 q-8.5 2.500000 -16.9 0 q-2 -12.5 0 -25.0 z" fill="#fdfdfd" stroke="#333" stroke-width=".8"/>
<path d="M66.6 34.0 q8.5 -2.5 16.9 0 q2 12.5 0 25.0 q-8.5 2.500000 -16.9 0 q-2 -12.5 0 -25.0 z" fill="#fdfdfd" stroke="#333" stroke-width=".8"/>
<path d="M1.5 2 Q18.0 -1.5 32.9 1.5 T51.5 1 L59.8 62.5 Q44.9 65.5 29.9 63.5 T2 62.0 Q-.5 32.0 1.5 2z" fill="#fefefe" stroke="#222" stroke-width="1"/>
<path d="M37.1 1 Q51.5 32.0 51.5 63.0" fill="none" stroke="#222" stroke-width=".9"/>
<path d="M47.9 1 Q58.1 32.0 55.7 63.0" fill="none" stroke="#222" stroke-width=".8"/>
</g>
<rect x="595.5" y="712.5" width="19.0" height="21.5" fill="#fdfdfd" filter="url(#sh)" stroke="#5e5e5e" stroke-width=".8"/>
<rect x="595.5" y="796.0" width="19.0" height="21.5" fill="#fdfdfd" filter="url(#sh)" stroke="#5e5e5e" stroke-width=".8"/>
<g transform="translate(572.5 764.5) rotate(0) translate(-42.5 -31.5)">
<rect x="-1" y="1" width="81.0" height="63.0" fill="#000" opacity=".45" filter="url(#blur2)"/>
<rect x="64.2" y="0" width="20.8" height="63.0" fill="#fdfdfd" stroke="#555" stroke-width=".7"/>
<rect x="51.0" y="0.5" width="13.2" height="62.0" fill="#fdfdfd"/>
<path d="M66.2 4.0 q8.4 -2.5 16.8 0 q2 12.2 0 24.5 q-8.4 2.500000 -16.8 0 q-2 -12.2 0 -24.5 z" fill="#fdfdfd" stroke="#333" stroke-width=".8"/>
<path d="M66.2 33.5 q8.4 -2.5 16.8 0 q2 12.2 0 24.5 q-8.4 2.500000 -16.8 0 q-2 -12.2 0 -24.5 z" fill="#fdfdfd" stroke="#333" stroke-width=".8"/>
<path d="M1.5 2 Q17.8 -1.5 32.7 1.5 T51.2 1 L59.5 61.5 Q44.6 64.5 29.7 62.5 T2 61.0 Q-.5 31.5 1.5 2z" fill="#fefefe" stroke="#222" stroke-width="1"/>
<path d="M36.9 1 Q51.2 31.5 51.2 62.0" fill="none" stroke="#222" stroke-width=".9"/>
<path d="M47.6 1 Q57.7 31.5 55.3 62.0" fill="none" stroke="#222" stroke-width=".8"/>
</g>
<g filter="url(#sh)" stroke="#777" stroke-width=".7">
<rect x="177.0" y="259.0" width="35.0" height="88.0" rx="2.5" fill="#fdfdfd"/>
</g>
<g fill="none" stroke="#888" stroke-width=".7">
<rect x="177.0" y="261.0" width="7.0" height="84.0" rx="2"/>
<rect x="180.0" y="259.0" width="32.0" height="6.0" rx="2"/>
<rect x="180.0" y="341.0" width="32.0" height="6.0" rx="2"/>
<line x1="184.0" y1="290.3" x2="212.0" y2="290.3" stroke="#888" stroke-width="0.70" />
<line x1="184.0" y1="315.7" x2="212.0" y2="315.7" stroke="#888" stroke-width="0.70" />
</g>
<g filter="url(#sh)" stroke="#777" stroke-width=".7">
<rect x="176.0" y="695.5" width="35.0" height="88.5" rx="2.5" fill="#fdfdfd"/>
</g>
<g fill="none" stroke="#888" stroke-width=".7">
<rect x="176.0" y="697.5" width="7.0" height="84.5" rx="2"/>
<rect x="179.0" y="695.5" width="32.0" height="6.0" rx="2"/>
<rect x="179.0" y="778.0" width="32.0" height="6.0" rx="2"/>
<line x1="183.0" y1="727.0" x2="211.0" y2="727.0" stroke="#888" stroke-width="0.70" />
<line x1="183.0" y1="752.5" x2="211.0" y2="752.5" stroke="#888" stroke-width="0.70" />
</g>
<g filter="url(#sh)" stroke="#777" stroke-width=".7">
<rect x="921.0" y="155.5" width="88.5" height="34.5" rx="2.5" fill="#fdfdfd"/>
</g>
<g fill="none" stroke="#888" stroke-width=".7">
<rect x="923.0" y="155.5" width="84.5" height="7.0" rx="2"/>
<rect x="921.0" y="158.5" width="6.0" height="31.5" rx="2"/>
<rect x="1003.5" y="158.5" width="6.0" height="31.5" rx="2"/>
<line x1="952.5" y1="162.5" x2="952.5" y2="190.0" stroke="#888" stroke-width="0.70" />
<line x1="978.0" y1="162.5" x2="978.0" y2="190.0" stroke="#888" stroke-width="0.70" />
</g>
<g transform="translate(219.0 372.5) rotate(225.0)">
<path d="M-13.9 -8.5 L-13.9 3.4 C-13.9 12.8 -7.7 17.0 0 17.0 C7.7 17.0 13.9 12.8 13.9 3.4 L13.9 -8.5 C8.5 -18.4 -8.5 -18.4 -13.9 -8.5 Z" fill="#fdfdfd" stroke="#444" stroke-width="1" filter="url(#sh)"/>
<path d="M-13.9 -8.5 C-6.8 -1.7 6.8 -1.7 13.9 -8.5 M-11.2 -6.1 V5.9 M11.2 -6.1 V5.9" fill="none" stroke="#666" stroke-width=".8"/>
</g>
<g transform="translate(224.0 670.5) rotate(-15.0)">
<path d="M-13.9 -8.5 L-13.9 3.4 C-13.9 12.8 -7.7 17.0 0 17.0 C7.7 17.0 13.9 12.8 13.9 3.4 L13.9 -8.5 C8.5 -18.4 -8.5 -18.4 -13.9 -8.5 Z" fill="#fdfdfd" stroke="#444" stroke-width="1" filter="url(#sh)"/>
<path d="M-13.9 -8.5 C-6.8 -1.7 6.8 -1.7 13.9 -8.5 M-11.2 -6.1 V5.9 M11.2 -6.1 V5.9" fill="none" stroke="#666" stroke-width=".8"/>
</g>
<g transform="translate(897.5 200.5) rotate(-50.0)">
<path d="M-14.3 -8.8 L-14.3 3.5 C-14.3 13.1 -7.9 17.5 0 17.5 C7.9 17.5 14.3 13.1 14.3 3.5 L14.3 -8.8 C8.8 -18.9 -8.8 -18.9 -14.3 -8.8 Z" fill="#fdfdfd" stroke="#444" stroke-width="1" filter="url(#sh)"/>
<path d="M-14.3 -8.8 C-7.0 -1.8 7.0 -1.8 14.3 -8.8 M-11.6 -6.3 V6.1 M11.6 -6.3 V6.1" fill="none" stroke="#666" stroke-width=".8"/>
</g>
<g transform="translate(225.0 813.5) rotate(180.0)">
<path d="M-13.1 -8.0 L-13.1 3.2 C-13.1 12.0 -7.2 16.0 0 16.0 C7.2 16.0 13.1 12.0 13.1 3.2 L13.1 -8.0 C8.0 -17.3 -8.0 -17.3 -13.1 -8.0 Z" fill="#fdfdfd" stroke="#444" stroke-width="1" filter="url(#sh)"/>
<path d="M-13.1 -8.0 C-6.4 -1.6 6.4 -1.6 13.1 -8.0 M-10.6 -5.8 V5.6 M10.6 -5.8 V5.6" fill="none" stroke="#666" stroke-width=".8"/>
</g>
<g transform="translate(258.5 813.5) rotate(180.0)">
<path d="M-13.1 -8.0 L-13.1 3.2 C-13.1 12.0 -7.2 16.0 0 16.0 C7.2 16.0 13.1 12.0 13.1 3.2 L13.1 -8.0 C8.0 -17.3 -8.0 -17.3 -13.1 -8.0 Z" fill="#fdfdfd" stroke="#444" stroke-width="1" filter="url(#sh)"/>
<path d="M-13.1 -8.0 C-6.4 -1.6 6.4 -1.6 13.1 -8.0 M-10.6 -5.8 V5.6 M10.6 -5.8 V5.6" fill="none" stroke="#666" stroke-width=".8"/>
</g>
<g transform="translate(241.0 412.5) rotate(0.0)">
<rect x="-12.0" y="-12.0" width="24.0" height="24.0" rx="2" fill="#fdfdfd" stroke="#555" stroke-width=".8" filter="url(#sh)"/>
<path d="M-9.0 -9.0 V12.0 M9.0 -9.0 V12.0 M-12.0 -8.5 H12.0" fill="none" stroke="#777" stroke-width=".7"/>
</g>
<g transform="translate(241.0 461.5) rotate(180.0)">
<rect x="-12.0" y="-12.0" width="24.0" height="24.0" rx="2" fill="#fdfdfd" stroke="#555" stroke-width=".8" filter="url(#sh)"/>
<path d="M-9.0 -9.0 V12.0 M9.0 -9.0 V12.0 M-12.0 -8.5 H12.0" fill="none" stroke="#777" stroke-width=".7"/>
</g>
<g transform="translate(269.3 412.5) rotate(0.0)">
<rect x="-12.0" y="-12.0" width="24.0" height="24.0" rx="2" fill="#fdfdfd" stroke="#555" stroke-width=".8" filter="url(#sh)"/>
<path d="M-9.0 -9.0 V12.0 M9.0 -9.0 V12.0 M-12.0 -8.5 H12.0" fill="none" stroke="#777" stroke-width=".7"/>
</g>
<g transform="translate(269.3 461.5) rotate(180.0)">
<rect x="-12.0" y="-12.0" width="24.0" height="24.0" rx="2" fill="#fdfdfd" stroke="#555" stroke-width=".8" filter="url(#sh)"/>
<path d="M-9.0 -9.0 V12.0 M9.0 -9.0 V12.0 M-12.0 -8.5 H12.0" fill="none" stroke="#777" stroke-width=".7"/>
</g>
<g transform="translate(298.7 412.5) rotate(0.0)">
<rect x="-12.0" y="-12.0" width="24.0" height="24.0" rx="2" fill="#fdfdfd" stroke="#555" stroke-width=".8" filter="url(#sh)"/>
<path d="M-9.0 -9.0 V12.0 M9.0 -9.0 V12.0 M-12.0 -8.5 H12.0" fill="none" stroke="#777" stroke-width=".7"/>
</g>
<g transform="translate(298.7 461.5) rotate(180.0)">
<rect x="-12.0" y="-12.0" width="24.0" height="24.0" rx="2" fill="#fdfdfd" stroke="#555" stroke-width=".8" filter="url(#sh)"/>
<path d="M-9.0 -9.0 V12.0 M9.0 -9.0 V12.0 M-12.0 -8.5 H12.0" fill="none" stroke="#777" stroke-width=".7"/>
</g>
<g transform="translate(215.5 438.7) rotate(-90.0)">
<rect x="-11.8" y="-12.0" width="23.5" height="24.0" rx="2" fill="#fdfdfd" stroke="#555" stroke-width=".8" filter="url(#sh)"/>
<path d="M-8.8 -9.0 V12.0 M8.8 -9.0 V12.0 M-11.8 -8.5 H11.8" fill="none" stroke="#777" stroke-width=".7"/>
</g>
<g transform="translate(328.5 438.7) rotate(90.0)">
<rect x="-11.8" y="-12.0" width="23.5" height="24.0" rx="2" fill="#fdfdfd" stroke="#555" stroke-width=".8" filter="url(#sh)"/>
<path d="M-8.8 -9.0 V12.0 M8.8 -9.0 V12.0 M-11.8 -8.5 H11.8" fill="none" stroke="#777" stroke-width=".7"/>
</g>
<rect x="220.5" y="417.5" width="104.5" height="41.5" fill="#fff" fill-opacity=".72" stroke="#bbb" stroke-width=".6"/>
<g transform="translate(340.5 552.5) rotate(90.0)">
<rect x="-11.0" y="-10.5" width="22.0" height="21.0" rx="2" fill="#fdfdfd" stroke="#555" stroke-width=".8" filter="url(#sh)"/>
<path d="M-8.0 -7.5 V10.5 M8.0 -7.5 V10.5 M-11.0 -7.0 H11.0" fill="none" stroke="#777" stroke-width=".7"/>
</g>
<g transform="translate(323.2 582.4) rotate(150.0)">
<rect x="-11.0" y="-10.5" width="22.0" height="21.0" rx="2" fill="#fdfdfd" stroke="#555" stroke-width=".8" filter="url(#sh)"/>
<path d="M-8.0 -7.5 V10.5 M8.0 -7.5 V10.5 M-11.0 -7.0 H11.0" fill="none" stroke="#777" stroke-width=".7"/>
</g>
<g transform="translate(288.8 582.4) rotate(210.0)">
<rect x="-11.0" y="-10.5" width="22.0" height="21.0" rx="2" fill="#fdfdfd" stroke="#555" stroke-width=".8" filter="url(#sh)"/>
<path d="M-8.0 -7.5 V10.5 M8.0 -7.5 V10.5 M-11.0 -7.0 H11.0" fill="none" stroke="#777" stroke-width=".7"/>
</g>
<g transform="translate(271.5 552.5) rotate(270.0)">
<rect x="-11.0" y="-10.5" width="22.0" height="21.0" rx="2" fill="#fdfdfd" stroke="#555" stroke-width=".8" filter="url(#sh)"/>
<path d="M-8.0 -7.5 V10.5 M8.0 -7.5 V10.5 M-11.0 -7.0 H11.0" fill="none" stroke="#777" stroke-width=".7"/>
</g>
<g transform="translate(288.8 522.6) rotate(330.0)">
<rect x="-11.0" y="-10.5" width="22.0" height="21.0" rx="2" fill="#fdfdfd" stroke="#555" stroke-width=".8" filter="url(#sh)"/>
<path d="M-8.0 -7.5 V10.5 M8.0 -7.5 V10.5 M-11.0 -7.0 H11.0" fill="none" stroke="#777" stroke-width=".7"/>
</g>
<g transform="translate(323.2 522.6) rotate(390.0)">
<rect x="-11.0" y="-10.5" width="22.0" height="21.0" rx="2" fill="#fdfdfd" stroke="#555" stroke-width=".8" filter="url(#sh)"/>
<path d="M-8.0 -7.5 V10.5 M8.0 -7.5 V10.5 M-11.0 -7.0 H11.0" fill="none" stroke="#777" stroke-width=".7"/>
</g>
<circle cx="306.0" cy="552.5" r="30.0" fill="#fff" fill-opacity=".38" stroke="#c4c4c4" stroke-width=".7"/>
<g transform="translate(872.0 249.0) rotate(90.0)">
<rect x="-11.0" y="-10.5" width="22.0" height="21.0" rx="2" fill="#fdfdfd" stroke="#555" stroke-width=".8" filter="url(#sh)"/>
<path d="M-8.0 -7.5 V10.5 M8.0 -7.5 V10.5 M-11.0 -7.0 H11.0" fill="none" stroke="#777" stroke-width=".7"/>
</g>
<g transform="translate(854.5 279.3) rotate(150.0)">
<rect x="-11.0" y="-10.5" width="22.0" height="21.0" rx="2" fill="#fdfdfd" stroke="#555" stroke-width=".8" filter="url(#sh)"/>
<path d="M-8.0 -7.5 V10.5 M8.0 -7.5 V10.5 M-11.0 -7.0 H11.0" fill="none" stroke="#777" stroke-width=".7"/>
</g>
<g transform="translate(819.5 279.3) rotate(210.0)">
<rect x="-11.0" y="-10.5" width="22.0" height="21.0" rx="2" fill="#fdfdfd" stroke="#555" stroke-width=".8" filter="url(#sh)"/>
<path d="M-8.0 -7.5 V10.5 M8.0 -7.5 V10.5 M-11.0 -7.0 H11.0" fill="none" stroke="#777" stroke-width=".7"/>
</g>
<g transform="translate(802.0 249.0) rotate(270.0)">
<rect x="-11.0" y="-10.5" width="22.0" height="21.0" rx="2" fill="#fdfdfd" stroke="#555" stroke-width=".8" filter="url(#sh)"/>
<path d="M-8.0 -7.5 V10.5 M8.0 -7.5 V10.5 M-11.0 -7.0 H11.0" fill="none" stroke="#777" stroke-width=".7"/>
</g>
<g transform="translate(819.5 218.7) rotate(330.0)">
<rect x="-11.0" y="-10.5" width="22.0" height="21.0" rx="2" fill="#fdfdfd" stroke="#555" stroke-width=".8" filter="url(#sh)"/>
<path d="M-8.0 -7.5 V10.5 M8.0 -7.5 V10.5 M-11.0 -7.0 H11.0" fill="none" stroke="#777" stroke-width=".7"/>
</g>
<g transform="translate(854.5 218.7) rotate(390.0)">
<rect x="-11.0" y="-10.5" width="22.0" height="21.0" rx="2" fill="#fdfdfd" stroke="#555" stroke-width=".8" filter="url(#sh)"/>
<path d="M-8.0 -7.5 V10.5 M8.0 -7.5 V10.5 M-11.0 -7.0 H11.0" fill="none" stroke="#777" stroke-width=".7"/>
</g>
<circle cx="837.0" cy="249.0" r="31.0" fill="#fff" fill-opacity=".38" stroke="#c4c4c4" stroke-width=".7"/>
<g stroke="#8c8f5e" stroke-width="1.2" fill="none" opacity=".85">
<path d="M272.0 438.0 q6.2 5.0 12.8 2.3"/>
<path d="M272.0 438.0 q0.0 8.0 6.3 11.4"/>
<path d="M272.0 438.0 q-6.2 5.1 -4.9 12.1"/>
<path d="M272.0 438.0 q-7.8 -1.6 -12.4 3.8"/>
<path d="M272.0 438.0 q-3.7 -7.1 -10.8 -7.3"/>
<path d="M272.0 438.0 q3.2 -7.3 -1.1 -13.0"/>
<path d="M272.0 438.0 q7.7 -2.1 9.4 -9.0"/>
</g>
<g stroke="#e9e6cf" stroke-width="1" fill="none">
<path d="M272.0 438.0 l7.4 5.2"/>
<path d="M272.0 438.0 l-0.8 9.0"/>
<path d="M272.0 438.0 l-8.2 3.8"/>
<path d="M272.0 438.0 l-7.4 -5.2"/>
<path d="M272.0 438.0 l0.8 -9.0"/>
<path d="M272.0 438.0 l8.2 -3.8"/>
</g>
<g stroke="#8c8f5e" stroke-width="1.2" fill="none" opacity=".85">
<path d="M306.0 552.0 q6.2 5.0 12.8 2.3"/>
<path d="M306.0 552.0 q0.0 8.0 6.3 11.4"/>
<path d="M306.0 552.0 q-6.2 5.1 -4.9 12.1"/>
<path d="M306.0 552.0 q-7.8 -1.6 -12.4 3.8"/>
<path d="M306.0 552.0 q-3.7 -7.1 -10.8 -7.3"/>
<path d="M306.0 552.0 q3.2 -7.3 -1.1 -13.0"/>
<path d="M306.0 552.0 q7.7 -2.1 9.4 -9.0"/>
</g>
<g stroke="#e9e6cf" stroke-width="1" fill="none">
<path d="M306.0 552.0 l7.4 5.2"/>
<path d="M306.0 552.0 l-0.8 9.0"/>
<path d="M306.0 552.0 l-8.2 3.8"/>
<path d="M306.0 552.0 l-7.4 -5.2"/>
<path d="M306.0 552.0 l0.8 -9.0"/>
<path d="M306.0 552.0 l8.2 -3.8"/>
</g>
<g stroke="#8c8f5e" stroke-width="1.2" fill="none" opacity=".85">
<path d="M837.0 249.0 q6.2 5.0 12.8 2.3"/>
<path d="M837.0 249.0 q0.0 8.0 6.3 11.4"/>
<path d="M837.0 249.0 q-6.2 5.1 -4.9 12.1"/>
<path d="M837.0 249.0 q-7.8 -1.6 -12.4 3.8"/>
<path d="M837.0 249.0 q-3.7 -7.1 -10.8 -7.3"/>
<path d="M837.0 249.0 q3.2 -7.3 -1.1 -13.0"/>
<path d="M837.0 249.0 q7.7 -2.1 9.4 -9.0"/>
</g>
<g stroke="#e9e6cf" stroke-width="1" fill="none">
<path d="M837.0 249.0 l7.4 5.2"/>
<path d="M837.0 249.0 l-0.8 9.0"/>
<path d="M837.0 249.0 l-8.2 3.8"/>
<path d="M837.0 249.0 l-7.4 -5.2"/>
<path d="M837.0 249.0 l0.8 -9.0"/>
<path d="M837.0 249.0 l8.2 -3.8"/>
</g>
<circle cx="192.0" cy="172.0" r="10.5" fill="#fdfdfd" stroke="#555" stroke-width="1.6" filter="url(#sh)"/>
<circle cx="224.0" cy="172.0" r="10.5" fill="#fdfdfd" stroke="#555" stroke-width="1.6" filter="url(#sh)"/>
<circle cx="192.0" cy="204.0" r="10.5" fill="#fdfdfd" stroke="#555" stroke-width="1.6" filter="url(#sh)"/>
<circle cx="224.0" cy="204.0" r="10.5" fill="#fdfdfd" stroke="#555" stroke-width="1.6" filter="url(#sh)"/>
<circle cx="208.0" cy="188.0" r="18.0" fill="#fefefe" stroke="#444" stroke-width=".8" filter="url(#sh)"/>
<g transform="translate(1044.0 174.5) rotate(-100.0)">
<path d="M-10.7 -6.5 L-10.7 2.6 C-10.7 9.8 -5.9 13.0 0 13.0 C5.9 13.0 10.7 9.8 10.7 2.6 L10.7 -6.5 C6.5 -14.0 -6.5 -14.0 -10.7 -6.5 Z" fill="#fdfdfd" stroke="#444" stroke-width="1" filter="url(#sh)"/>
<path d="M-10.7 -6.5 C-5.2 -1.3 5.2 -1.3 10.7 -6.5 M-8.6 -4.7 V4.5 M8.6 -4.7 V4.5" fill="none" stroke="#666" stroke-width=".8"/>
</g>
<g transform="translate(1067.5 202.5) rotate(195.0)">
<path d="M-10.7 -6.5 L-10.7 2.6 C-10.7 9.8 -5.9 13.0 0 13.0 C5.9 13.0 10.7 9.8 10.7 2.6 L10.7 -6.5 C6.5 -14.0 -6.5 -14.0 -10.7 -6.5 Z" fill="#fdfdfd" stroke="#444" stroke-width="1" filter="url(#sh)"/>
<path d="M-10.7 -6.5 C-5.2 -1.3 5.2 -1.3 10.7 -6.5 M-8.6 -4.7 V4.5 M8.6 -4.7 V4.5" fill="none" stroke="#666" stroke-width=".8"/>
</g>
<circle cx="1070.5" cy="174.5" r="11.5" fill="#fefefe" stroke="#333" stroke-width=".9" filter="url(#sh)"/>
<g transform="translate(217.7 576.0) rotate(60.0)">
<path d="M-11.1 -6.8 L-11.1 2.7 C-11.1 10.1 -6.1 13.5 0 13.5 C6.1 13.5 11.1 10.1 11.1 2.7 L11.1 -6.8 C6.8 -14.6 -6.8 -14.6 -11.1 -6.8 Z" fill="#fdfdfd" stroke="#444" stroke-width="1" filter="url(#sh)"/>
<path d="M-11.1 -6.8 C-5.4 -1.4 5.4 -1.4 11.1 -6.8 M-8.9 -4.9 V4.7 M8.9 -4.9 V4.7" fill="none" stroke="#666" stroke-width=".8"/>
</g>
<g transform="translate(215.0 612.0) rotate(125.0)">
<path d="M-11.1 -6.8 L-11.1 2.7 C-11.1 10.1 -6.1 13.5 0 13.5 C6.1 13.5 11.1 10.1 11.1 2.7 L11.1 -6.8 C6.8 -14.6 -6.8 -14.6 -11.1 -6.8 Z" fill="#fdfdfd" stroke="#444" stroke-width="1" filter="url(#sh)"/>
<path d="M-11.1 -6.8 C-5.4 -1.4 5.4 -1.4 11.1 -6.8 M-8.9 -4.9 V4.7 M8.9 -4.9 V4.7" fill="none" stroke="#666" stroke-width=".8"/>
</g>
<circle cx="195.5" cy="594.5" r="11.5" fill="#fefefe" stroke="#333" stroke-width=".9" filter="url(#sh)"/>
<g filter="url(#sh)">
<circle cx="186.0" cy="231.0" r="8.8" fill="#7fae4a" />
<circle cx="192.6" cy="231.0" r="4.6" fill="#8fbf57" />
<circle cx="191.1" cy="235.2" r="4.6" fill="#6f9e3d" />
<circle cx="187.1" cy="237.5" r="4.6" fill="#a6cf6e" />
<circle cx="182.7" cy="236.7" r="4.6" fill="#8fbf57" />
<circle cx="179.8" cy="233.3" r="4.6" fill="#6f9e3d" />
<circle cx="179.8" cy="228.7" r="4.6" fill="#a6cf6e" />
<circle cx="182.7" cy="225.3" r="4.6" fill="#8fbf57" />
<circle cx="187.1" cy="224.5" r="4.6" fill="#6f9e3d" />
<circle cx="191.1" cy="226.8" r="4.6" fill="#a6cf6e" />
</g>
<circle cx="189.6" cy="232.3" r="2.2" fill="#b6db82" />
<circle cx="187.3" cy="234.6" r="2.2" fill="#5f8f33" />
<circle cx="184.0" cy="234.3" r="2.2" fill="#b6db82" />
<circle cx="182.2" cy="231.5" r="2.2" fill="#5f8f33" />
<circle cx="183.2" cy="228.3" r="2.2" fill="#b6db82" />
<circle cx="186.3" cy="227.2" r="2.2" fill="#5f8f33" />
<circle cx="189.2" cy="228.8" r="2.2" fill="#b6db82" />
<g filter="url(#sh)">
<circle cx="1099.0" cy="170.5" r="9.2" fill="#7fae4a" />
<circle cx="1105.9" cy="170.5" r="4.8" fill="#8fbf57" />
<circle cx="1104.3" cy="174.9" r="4.8" fill="#6f9e3d" />
<circle cx="1100.2" cy="177.3" r="4.8" fill="#a6cf6e" />
<circle cx="1095.5" cy="176.5" r="4.8" fill="#8fbf57" />
<circle cx="1092.5" cy="172.9" r="4.8" fill="#6f9e3d" />
<circle cx="1092.5" cy="168.1" r="4.8" fill="#a6cf6e" />
<circle cx="1095.5" cy="164.5" r="4.8" fill="#8fbf57" />
<circle cx="1100.2" cy="163.7" r="4.8" fill="#6f9e3d" />
<circle cx="1104.3" cy="166.1" r="4.8" fill="#a6cf6e" />
</g>
<circle cx="1102.8" cy="171.9" r="2.3" fill="#b6db82" />
<circle cx="1100.3" cy="174.3" r="2.3" fill="#5f8f33" />
<circle cx="1096.9" cy="173.9" r="2.3" fill="#b6db82" />
<circle cx="1095.0" cy="171.0" r="2.3" fill="#5f8f33" />
<circle cx="1096.1" cy="167.7" r="2.3" fill="#b6db82" />
<circle cx="1099.4" cy="166.5" r="2.3" fill="#5f8f33" />
<circle cx="1102.3" cy="168.2" r="2.3" fill="#b6db82" />
<g filter="url(#sh)">
<circle cx="184.0" cy="546.0" r="8.4" fill="#7fae4a" />
<circle cx="190.3" cy="546.0" r="4.4" fill="#8fbf57" />
<circle cx="188.8" cy="550.0" r="4.4" fill="#6f9e3d" />
<circle cx="185.1" cy="552.2" r="4.4" fill="#a6cf6e" />
<circle cx="180.8" cy="551.5" r="4.4" fill="#8fbf57" />
<circle cx="178.1" cy="548.2" r="4.4" fill="#6f9e3d" />
<circle cx="178.1" cy="543.8" r="4.4" fill="#a6cf6e" />
<circle cx="180.8" cy="540.5" r="4.4" fill="#8fbf57" />
<circle cx="185.1" cy="539.8" r="4.4" fill="#6f9e3d" />
<circle cx="188.8" cy="542.0" r="4.4" fill="#a6cf6e" />
</g>
<circle cx="187.5" cy="547.3" r="2.1" fill="#b6db82" />
<circle cx="185.2" cy="549.5" r="2.1" fill="#5f8f33" />
<circle cx="182.1" cy="549.1" r="2.1" fill="#b6db82" />
<circle cx="180.4" cy="546.4" r="2.1" fill="#5f8f33" />
<circle cx="181.4" cy="543.4" r="2.1" fill="#b6db82" />
<circle cx="184.3" cy="542.3" r="2.1" fill="#5f8f33" />
<circle cx="187.0" cy="543.9" r="2.1" fill="#b6db82" />
<rect x="284.0" y="261.0" width="18.5" height="106.5" fill="#fdfdfd" filter="url(#sh)" />
<rect x="296.0" y="245.0" width="6.5" height="71.0" fill="#5a5a5a" />
<path d="M291 287 q-3 12 0 30" stroke="#111" stroke-width="2.2" fill="none"/>
<rect x="290" y="262" width="1.5" height="24" fill="#333"/>
<polygon points="282.0,672.5 302.5,672.5 302.5,737.5 296.0,737.5 296.0,824.5 282.0,824.5" fill="#fdfdfd" filter="url(#sh)"/>
<rect x="296.0" y="738.0" width="6.5" height="51.0" fill="#3a3a3a" />
<rect x="296.0" y="760.0" width="6.5" height="12.0" fill="#777" />
<path d="M288.5 705 q-3 14 0 34" stroke="#111" stroke-width="2.4" fill="none"/>
<rect x="914.5" y="262.0" width="96.5" height="17.0" fill="#fdfdfd" filter="url(#sh)" />
<rect x="944.0" y="272.0" width="80.5" height="7.5" fill="#5a5a5a" />
<path d="M930 265.5 q26 3 56 0" stroke="#111" stroke-width="2.2" fill="none"/>
<g filter="url(#sh)">
<rect x="339.0" y="194.0" width="25.0" height="150.0" fill="#e3e3e1" />
</g>
<rect x="339.0" y="194.0" width="25.0" height="150.0" fill="none" stroke="#9a9a9a" stroke-width=".6"/>
<rect x="342" y="198" width="20" height="23" rx="2" fill="#fdfdfd" stroke="#555" stroke-width=".8"/>
<rect x="344.5" y="200.5" width="8.5" height="18.5" fill="#666" />
<rect x="342.5" y="262.0" width="17.0" height="23.0" fill="#141414" />
<rect x="342" y="297" width="18" height="25" rx="2.5" fill="#fdfdfd" stroke="#666" stroke-width=".8"/>
<line x1="355.0" y1="309.0" x2="362.0" y2="309.0" stroke="#888" stroke-width="1.40" />
<rect x="337.0" y="228.0" width="2.0" height="26.0" fill="#f2f2f2" stroke="#777" stroke-width=".5"/>
<rect x="334.0" y="347.0" width="28.5" height="30.0" fill="#fdfdfd" filter="url(#sh)" stroke="#666" stroke-width=".6"/>
<line x1="336.0" y1="347.5" x2="336.0" y2="376.5" stroke="#333" stroke-width="1.60" />
<rect x="334.0" y="616.0" width="28.5" height="30.0" fill="#fdfdfd" filter="url(#sh)" stroke="#666" stroke-width=".6"/>
<line x1="336.0" y1="616.5" x2="336.0" y2="645.5" stroke="#333" stroke-width="1.60" />
<g filter="url(#sh)">
<rect x="339.0" y="649.0" width="25.0" height="138.5" fill="#e3e3e1" />
</g>
<rect x="339.0" y="649.0" width="25.0" height="138.5" fill="none" stroke="#9a9a9a" stroke-width=".6"/>
<rect x="342" y="667" width="18" height="24" rx="2.5" fill="#fdfdfd" stroke="#666" stroke-width=".8"/>
<line x1="355.0" y1="679.0" x2="362.0" y2="679.0" stroke="#888" stroke-width="1.40" />
<rect x="342.0" y="700.0" width="17.5" height="23.0" fill="#141414" />
<rect x="342" y="759" width="20" height="22" rx="2" fill="#fdfdfd" stroke="#555" stroke-width=".8"/>
<rect x="344.5" y="761.5" width="8.5" height="17.5" fill="#666" />
<rect x="337.0" y="730.0" width="2.0" height="26.0" fill="#f2f2f2" stroke="#777" stroke-width=".5"/>
<rect x="857.5" y="309.5" width="30.0" height="28.5" fill="#fdfdfd" filter="url(#sh)" stroke="#666" stroke-width=".6"/>
<line x1="858.0" y1="311.5" x2="887.0" y2="311.5" stroke="#222" stroke-width="1.80" />
<rect x="889" y="311" width="188" height="6" fill="#000" opacity=".35" filter="url(#blur1)"/>
<rect x="890.0" y="315.0" width="185.0" height="24.5" fill="#e3e3e1" />
<rect x="935" y="318" width="24.5" height="17.500000" rx="2.5" fill="#fdfdfd" stroke="#666" stroke-width=".8"/>
<line x1="947.0" y1="331.0" x2="947.0" y2="338.0" stroke="#888" stroke-width="1.40" />
<rect x="979.5" y="319.0" width="23.0" height="17.0" fill="#141414" />
<rect x="1047.5" y="317" width="20.5" height="18" rx="2" fill="#fdfdfd" stroke="#555" stroke-width=".8"/>
<rect x="1050.0" y="319.5" width="15.5" height="7.5" fill="#666" />
<rect x="1071.0" y="310.0" width="5.0" height="30.0" fill="#d0d0d0" stroke="#888" stroke-width=".5"/>
<rect x="1078.0" y="312.0" width="3.0" height="28.0" fill="#e8e8e8" stroke="#777" stroke-width=".5"/>
<rect x="753.8" y="333.0" width="18.6" height="55.0" fill="#dad9d6" stroke="#aaa" stroke-width=".5"/>
<rect x="757.0" y="336.5" width="13.5" height="18.0" fill="#fdfdfd" stroke="#444" stroke-width=".8"/>
<rect x="758.8" y="338.3" width="9.9" height="14.4" fill="none" stroke="#777" stroke-width=".5"/>
<line x1="764.8" y1="345.5" x2="769.5" y2="345.5" stroke="#333" stroke-width="1.60" />
<rect x="757.0" y="364.0" width="13.5" height="19.0" fill="#fdfdfd" stroke="#444" stroke-width=".8"/>
<rect x="758.8" y="365.8" width="9.9" height="15.4" fill="none" stroke="#777" stroke-width=".5"/>
<line x1="764.8" y1="373.5" x2="769.5" y2="373.5" stroke="#333" stroke-width="1.60" />
<g filter="url(#shs)" stroke="#222" stroke-width="1.1" fill="#fdfdfd">
<rect x="765.4" y="308.5" width="7" height="13.5" rx="1"/>
<path d="M764.9 309.0 H754.8 Q746.8 309.0 746.8 315.2 Q746.8 321.5 754.8 321.5 H764.9 Z"/>
</g>
<line x1="722.5" y1="299.0" x2="766.0" y2="299.0" stroke="#222" stroke-width="1.50" />
<line x1="744.4" y1="281.3" x2="766.0" y2="281.3" stroke="#666" stroke-width="1.20" />
<circle cx="744.4" cy="281.3" r="3.3" fill="#e8e8e8" stroke="#555" stroke-width=".8"/>
<circle cx="744.4" cy="281.3" r="1.4" fill="#fff" stroke="#666" stroke-width=".6"/>
<rect x="424.0" y="429.0" width="35.0" height="18.5" fill="#dad9d6" stroke="#aaa" stroke-width=".5"/>
<rect x="430.0" y="432.5" width="21.0" height="12.5" fill="#fdfdfd" stroke="#444" stroke-width=".8"/>
<rect x="431.8" y="434.3" width="17.4" height="8.9" fill="none" stroke="#777" stroke-width=".5"/>
<line x1="440.5" y1="439.8" x2="440.5" y2="444.0" stroke="#333" stroke-width="1.60" />
<g filter="url(#shs)" stroke="#222" stroke-width="1.1" fill="#fdfdfd">
<rect x="465.5" y="440.0" width="14.0" height="7" rx="1"/>
<path d="M466.0 439.5 V429.0 Q466.0 421.0 472.5 421.0 Q479.0 421.0 479.0 429.0 V439.5 Z"/>
</g>
<rect x="485.0" y="394.5" width="1.5" height="53.0" fill="#222" />
<rect x="487.0" y="439.5" width="34.5" height="8.5" fill="#1b1819" />
<rect x="490.0" y="443.5" width="31.0" height="4.0" fill="#f0f0f0" />
<line x1="504.5" y1="420.0" x2="504.5" y2="440.0" stroke="#666" stroke-width="1.20" />
<circle cx="504.5" cy="420.0" r="3.3" fill="#e8e8e8" stroke="#555" stroke-width=".8"/>
<circle cx="504.5" cy="420.0" r="1.4" fill="#fff" stroke="#666" stroke-width=".6"/>
<rect x="423.0" y="551.0" width="36.0" height="16.5" fill="#dad9d6" stroke="#aaa" stroke-width=".5"/>
<rect x="430.5" y="553.0" width="20.5" height="12.5" fill="#fdfdfd" stroke="#444" stroke-width=".8"/>
<rect x="432.3" y="554.8" width="16.9" height="8.9" fill="none" stroke="#777" stroke-width=".5"/>
<line x1="440.8" y1="558.2" x2="440.8" y2="554.0" stroke="#333" stroke-width="1.60" />
<g filter="url(#shs)" stroke="#222" stroke-width="1.1" fill="#fdfdfd">
<rect x="465.5" y="551.0" width="14.0" height="7" rx="1"/>
<path d="M466.0 558.5 V569.0 Q466.0 577.0 472.5 577.0 Q479.0 577.0 479.0 569.0 V558.5 Z"/>
</g>
<rect x="485.5" y="551.0" width="1.5" height="53.0" fill="#222" />
<line x1="504.0" y1="579.5" x2="504.0" y2="559.0" stroke="#666" stroke-width="1.20" />
<circle cx="504.0" cy="579.5" r="3.3" fill="#e8e8e8" stroke="#555" stroke-width=".8"/>
<circle cx="504.0" cy="579.5" r="1.4" fill="#fff" stroke="#666" stroke-width=".6"/>
<rect x="828.5" y="394.5" width="18.5" height="36.5" fill="#dad9d6" stroke="#aaa" stroke-width=".5"/>
<rect x="830.0" y="402.5" width="14.0" height="20.0" fill="#fdfdfd" stroke="#444" stroke-width=".8"/>
<rect x="831.8" y="404.3" width="10.4" height="16.4" fill="none" stroke="#777" stroke-width=".5"/>
<line x1="836.0" y1="412.5" x2="831.0" y2="412.5" stroke="#333" stroke-width="1.60" />
<g filter="url(#shs)" stroke="#222" stroke-width="1.1" fill="#fdfdfd">
<rect x="828.5" y="438.0" width="7" height="14.0" rx="1"/>
<path d="M836.0 438.5 H846.5 Q854.5 438.5 854.5 445.0 Q854.5 451.5 846.5 451.5 H836.0 Z"/>
</g>
<line x1="828.0" y1="457.5" x2="882.0" y2="457.5" stroke="#999" stroke-width="1.20" />
<line x1="847.5" y1="476.0" x2="829.0" y2="476.0" stroke="#666" stroke-width="1.20" />
<circle cx="847.5" cy="476.0" r="3.3" fill="#e8e8e8" stroke="#555" stroke-width=".8"/>
<circle cx="847.5" cy="476.0" r="1.4" fill="#fff" stroke="#666" stroke-width=".6"/>
<rect x="828.5" y="500.0" width="18.5" height="36.0" fill="#dad9d6" stroke="#aaa" stroke-width=".5"/>
<rect x="830.0" y="509.0" width="14.0" height="18.5" fill="#fdfdfd" stroke="#444" stroke-width=".8"/>
<rect x="831.8" y="510.8" width="10.4" height="14.9" fill="none" stroke="#777" stroke-width=".5"/>
<line x1="836.0" y1="518.2" x2="831.0" y2="518.2" stroke="#333" stroke-width="1.60" />
<g filter="url(#shs)" stroke="#222" stroke-width="1.1" fill="#fdfdfd">
<rect x="828.5" y="543.0" width="7" height="14.0" rx="1"/>
<path d="M836.0 543.5 H846.5 Q854.5 543.5 854.5 550.0 Q854.5 556.5 846.5 556.5 H836.0 Z"/>
</g>
<line x1="836.0" y1="562.5" x2="882.0" y2="562.5" stroke="#999" stroke-width="1.20" />
<line x1="856.0" y1="581.0" x2="836.0" y2="581.0" stroke="#666" stroke-width="1.20" />
<circle cx="856.0" cy="581.0" r="3.3" fill="#e8e8e8" stroke="#555" stroke-width=".8"/>
<circle cx="856.0" cy="581.0" r="1.4" fill="#fff" stroke="#666" stroke-width=".6"/>
<rect x="659.0" y="611.0" width="18.5" height="36.5" fill="#dad9d6" stroke="#aaa" stroke-width=".5"/>
<rect x="662.0" y="619.0" width="13.0" height="20.0" fill="#fdfdfd" stroke="#444" stroke-width=".8"/>
<rect x="663.8" y="620.8" width="9.4" height="16.4" fill="none" stroke="#777" stroke-width=".5"/>
<line x1="669.5" y1="629.0" x2="674.0" y2="629.0" stroke="#333" stroke-width="1.60" />
<g filter="url(#shs)" stroke="#222" stroke-width="1.1" fill="#fdfdfd">
<rect x="670.5" y="656.0" width="7" height="14.0" rx="1"/>
<path d="M670.0 656.5 H659.0 Q651.0 656.5 651.0 663.0 Q651.0 669.5 659.0 669.5 H670.0 Z"/>
</g>
<line x1="624.0" y1="678.5" x2="678.0" y2="678.5" stroke="#999" stroke-width="1.20" />
<line x1="649.0" y1="697.0" x2="671.0" y2="697.0" stroke="#666" stroke-width="1.20" />
<circle cx="649.0" cy="697.0" r="3.3" fill="#e8e8e8" stroke="#555" stroke-width=".8"/>
<circle cx="649.0" cy="697.0" r="1.4" fill="#fff" stroke="#666" stroke-width=".6"/>
<rect x="783.0" y="351.0" width="2.5" height="37.5" fill="#f4f4f4" stroke="#8a8a8a" stroke-width=".6"/>
<rect x="532.5" y="419.0" width="3.5" height="33.5" fill="#f4f4f4" stroke="#8a8a8a" stroke-width=".6"/>
<rect x="615.0" y="419.0" width="4.0" height="33.5" fill="#f4f4f4" stroke="#8a8a8a" stroke-width=".6"/>
<rect x="737.0" y="441.0" width="29.0" height="4.0" fill="#f4f4f4" stroke="#8a8a8a" stroke-width=".6"/>
<rect x="689.5" y="524.0" width="3.0" height="37.0" fill="#f4f4f4" stroke="#8a8a8a" stroke-width=".6"/>
<rect x="477.0" y="307.5" width="3.0" height="38.5" fill="#f4f4f4" stroke="#8a8a8a" stroke-width=".6"/>
<rect x="494.0" y="307.5" width="3.0" height="38.5" fill="#f4f4f4" stroke="#8a8a8a" stroke-width=".6"/>
<rect x="549.0" y="349.5" width="31.0" height="3.5" fill="#f4f4f4" stroke="#8a8a8a" stroke-width=".6"/>
<rect x="409.0" y="410.0" width="3.0" height="37.5" fill="#f4f4f4" stroke="#8a8a8a" stroke-width=".6"/>
<rect x="374.0" y="355.0" width="3.0" height="32.5" fill="#f4f4f4" stroke="#8a8a8a" stroke-width=".6"/>
<rect x="425.0" y="395.0" width="3.0" height="27.5" fill="#f4f4f4" stroke="#8a8a8a" stroke-width=".6"/>
<rect x="410.5" y="521.0" width="2.5" height="38.0" fill="#f4f4f4" stroke="#8a8a8a" stroke-width=".6"/>
<rect x="425.0" y="576.0" width="4.0" height="28.0" fill="#f4f4f4" stroke="#8a8a8a" stroke-width=".6"/>
<rect x="374.0" y="610.0" width="3.0" height="34.0" fill="#f4f4f4" stroke="#8a8a8a" stroke-width=".6"/>
<rect x="374.0" y="657.5" width="3.0" height="33.5" fill="#f4f4f4" stroke="#8a8a8a" stroke-width=".6"/>
<rect x="469.5" y="613.0" width="32.5" height="4.0" fill="#f4f4f4" stroke="#8a8a8a" stroke-width=".6"/>
<rect x="875.5" y="394.5" width="2.5" height="28.0" fill="#f4f4f4" stroke="#8a8a8a" stroke-width=".6"/>
<rect x="891.0" y="394.5" width="3.5" height="31.5" fill="#f4f4f4" stroke="#8a8a8a" stroke-width=".6"/>
<rect x="936.0" y="350.5" width="31.5" height="2.5" fill="#f4f4f4" stroke="#8a8a8a" stroke-width=".6"/>
<rect x="853.0" y="503.0" width="29.0" height="2.5" fill="#f4f4f4" stroke="#8a8a8a" stroke-width=".6"/>
<rect x="624.5" y="625.0" width="2.5" height="28.0" fill="#f4f4f4" stroke="#8a8a8a" stroke-width=".6"/>
<rect x="723.0" y="344.0" width="2.6" height="28.0" fill="#f4f4f4" stroke="#8a8a8a" stroke-width=".6"/>
<rect x="303.0" y="214.0" width="32.0" height="2.0" fill="#f4f4f4" stroke="#8a8a8a" stroke-width=".6"/>
<rect x="1052.5" y="280.0" width="2.5" height="28.0" fill="#f4f4f4" stroke="#8a8a8a" stroke-width=".6"/>
<line x1="372.0" y1="150.5" x2="482.0" y2="150.5" stroke="#5f6366" stroke-width="0.90" />
<line x1="372.0" y1="151.5" x2="482.0" y2="151.5" stroke="#e4e6e7" stroke-width="0.90" />
<line x1="492.0" y1="150.5" x2="598.0" y2="150.5" stroke="#5f6366" stroke-width="0.90" />
<line x1="492.0" y1="151.5" x2="598.0" y2="151.5" stroke="#e4e6e7" stroke-width="0.90" />
<line x1="611.0" y1="187.5" x2="716.0" y2="187.5" stroke="#5f6366" stroke-width="0.90" />
<line x1="611.0" y1="188.5" x2="716.0" y2="188.5" stroke="#e4e6e7" stroke-width="0.90" />
<line x1="806.0" y1="150.5" x2="1018.0" y2="150.5" stroke="#5f6366" stroke-width="0.90" />
<line x1="806.0" y1="151.5" x2="1018.0" y2="151.5" stroke="#e4e6e7" stroke-width="0.90" />
<line x1="174.0" y1="248.5" x2="295.0" y2="248.5" stroke="#5f6366" stroke-width="0.90" />
<line x1="174.0" y1="249.5" x2="295.0" y2="249.5" stroke="#e4e6e7" stroke-width="0.90" />
<line x1="168.5" y1="254.0" x2="168.5" y2="470.0" stroke="#5f6366" stroke-width="0.90" />
<line x1="169.5" y1="254.0" x2="169.5" y2="470.0" stroke="#e4e6e7" stroke-width="0.90" />
<line x1="1021.0" y1="156.0" x2="1021.0" y2="270.0" stroke="#5f6366" stroke-width="0.90" />
<line x1="1022.0" y1="156.0" x2="1022.0" y2="270.0" stroke="#e4e6e7" stroke-width="0.90" />
<line x1="1117.5" y1="156.0" x2="1117.5" y2="244.0" stroke="#5f6366" stroke-width="0.90" />
<line x1="1118.5" y1="156.0" x2="1118.5" y2="244.0" stroke="#e4e6e7" stroke-width="0.90" />
<line x1="1026.0" y1="152.0" x2="1113.0" y2="152.0" stroke="#5f6366" stroke-width="0.90" />
<line x1="1026.0" y1="153.0" x2="1113.0" y2="153.0" stroke="#e4e6e7" stroke-width="0.90" />
<line x1="169.0" y1="152.5" x2="269.0" y2="152.5" stroke="#5f6366" stroke-width="0.90" />
<line x1="169.0" y1="153.5" x2="269.0" y2="153.5" stroke="#e4e6e7" stroke-width="0.90" />
<line x1="168.5" y1="156.0" x2="168.5" y2="244.0" stroke="#5f6366" stroke-width="0.90" />
<line x1="169.5" y1="156.0" x2="169.5" y2="244.0" stroke="#e4e6e7" stroke-width="0.90" />
<line x1="168.5" y1="530.0" x2="168.5" y2="632.0" stroke="#5f6366" stroke-width="0.90" />
<line x1="169.5" y1="530.0" x2="169.5" y2="632.0" stroke="#e4e6e7" stroke-width="0.90" />
<line x1="174.0" y1="634.5" x2="248.0" y2="634.5" stroke="#5f6366" stroke-width="0.90" />
<line x1="174.0" y1="635.5" x2="248.0" y2="635.5" stroke="#e4e6e7" stroke-width="0.90" />
<line x1="250.0" y1="530.0" x2="250.0" y2="632.0" stroke="#5f6366" stroke-width="0.90" />
<line x1="251.0" y1="530.0" x2="251.0" y2="632.0" stroke="#e4e6e7" stroke-width="0.90" />
<line x1="167.0" y1="640.0" x2="167.0" y2="832.0" stroke="#5f6366" stroke-width="0.90" />
<line x1="168.0" y1="640.0" x2="168.0" y2="832.0" stroke="#e4e6e7" stroke-width="0.90" />
<line x1="174.0" y1="836.5" x2="362.0" y2="836.5" stroke="#5f6366" stroke-width="0.90" />
<line x1="174.0" y1="837.5" x2="362.0" y2="837.5" stroke="#e4e6e7" stroke-width="0.90" />
<line x1="373.0" y1="799.5" x2="487.0" y2="799.5" stroke="#5f6366" stroke-width="0.90" />
<line x1="373.0" y1="800.5" x2="487.0" y2="800.5" stroke="#e4e6e7" stroke-width="0.90" />
<line x1="500.0" y1="838.0" x2="616.0" y2="838.0" stroke="#5f6366" stroke-width="0.90" />
<line x1="500.0" y1="839.0" x2="616.0" y2="839.0" stroke="#e4e6e7" stroke-width="0.90" />
<line x1="1117.5" y1="348.0" x2="1117.5" y2="448.0" stroke="#5f6366" stroke-width="0.90" />
<line x1="1118.5" y1="348.0" x2="1118.5" y2="448.0" stroke="#e4e6e7" stroke-width="0.90" />
<line x1="1088.0" y1="460.0" x2="1088.0" y2="568.0" stroke="#5f6366" stroke-width="0.90" />
<line x1="1089.0" y1="460.0" x2="1089.0" y2="568.0" stroke="#e4e6e7" stroke-width="0.90" />
<line x1="626.0" y1="802.5" x2="678.0" y2="802.5" stroke="#5f6366" stroke-width="0.90" />
<line x1="626.0" y1="803.5" x2="678.0" y2="803.5" stroke="#e4e6e7" stroke-width="0.90" />
<rect x="166.0" y="245.0" width="6.5" height="6.5" fill="#1b1819" />
<rect x="296.0" y="245.0" width="6.5" height="6.5" fill="#1b1819" />
<rect x="166.0" y="631.0" width="6.5" height="6.5" fill="#1b1819" />
<rect x="1017.5" y="149.0" width="6.5" height="6.5" fill="#1b1819" />
<rect x="1017.5" y="272.0" width="6.5" height="6.5" fill="#1b1819" />
<g opacity=".16" fill="#fff">
<path d="M566 470 L650 418 L736 470 L728 470 L650 428 L574 470Z"/>
<path d="M664 445v-22l6-3v25zM673 445v-30l6-3v33zM682 445v-38l6-3v41z"/>
</g><g opacity=".22" fill="#fff">
<text x="558" y="504" font-family="Liberation Serif, serif" font-weight="bold" font-size="50" textLength="181" lengthAdjust="spacingAndGlyphs">Accarlos</text>
<text x="613" y="519" font-family="Liberation Sans, sans-serif" font-size="11" textLength="72" lengthAdjust="spacing">IMÓVEIS</text>
</g>
<circle cx="567.5" cy="421.0" r="10.3" fill="#c9a876" opacity=".55"/>
<circle cx="567.5" cy="421.0" r="9.5" fill="#a36b1c" />
<text x="567.5" y="425.8" text-anchor="middle" font-family="Liberation Serif, serif" font-size="14" fill="#f8e2b4" stroke="#f8e2b4" stroke-width=".35">3</text>
<circle cx="652.5" cy="421.0" r="10.3" fill="#c9a876" opacity=".55"/>
<circle cx="652.5" cy="421.0" r="9.5" fill="#a36b1c" />
<text x="652.5" y="425.8" text-anchor="middle" font-family="Liberation Serif, serif" font-size="14" fill="#f8e2b4" stroke="#f8e2b4" stroke-width=".35">2</text>
<circle cx="732.0" cy="421.0" r="10.3" fill="#c9a876" opacity=".55"/>
<circle cx="732.0" cy="421.0" r="9.5" fill="#a36b1c" />
<text x="732.0" y="425.8" text-anchor="middle" font-family="Liberation Serif, serif" font-size="14" fill="#f8e2b4" stroke="#f8e2b4" stroke-width=".35">1</text>
<circle cx="597.5" cy="482.0" r="10.3" fill="#c9a876" opacity=".55"/>
<circle cx="597.5" cy="482.0" r="9.5" fill="#a36b1c" />
<text x="597.5" y="486.8" text-anchor="middle" font-family="Liberation Serif, serif" font-size="14" fill="#f8e2b4" stroke="#f8e2b4" stroke-width=".35">4</text>
<circle cx="564.0" cy="562.5" r="10.3" fill="#c9a876" opacity=".55"/>
<circle cx="564.0" cy="562.5" r="9.5" fill="#a36b1c" />
<text x="564.0" y="567.3" text-anchor="middle" font-family="Liberation Serif, serif" font-size="14" fill="#f8e2b4" stroke="#f8e2b4" stroke-width=".35">5</text>
<circle cx="641.0" cy="562.5" r="10.3" fill="#c9a876" opacity=".55"/>
<circle cx="641.0" cy="562.5" r="9.5" fill="#a36b1c" />
<text x="641.0" y="567.3" text-anchor="middle" font-family="Liberation Serif, serif" font-size="14" fill="#f8e2b4" stroke="#f8e2b4" stroke-width=".35">5</text>
<circle cx="739.0" cy="582.0" r="10.3" fill="#c9a876" opacity=".55"/>
<circle cx="739.0" cy="582.0" r="9.5" fill="#a36b1c" />
<text x="739.0" y="586.8" text-anchor="middle" font-family="Liberation Serif, serif" font-size="14" fill="#f8e2b4" stroke="#f8e2b4" stroke-width=".35">6</text>
<circle cx="394.0" cy="462.5" r="14.5" fill="#7fc9bd" opacity=".6"/>
<circle cx="394.0" cy="462.5" r="13.5" fill="#1c9c88" />
<text x="394.0" y="457.0" text-anchor="middle" font-family="Liberation Serif, serif" font-style="italic" font-size="5.5" fill="#e8fffa">final</text>
<text x="394.0" y="471.0" text-anchor="middle" font-family="Liberation Serif, serif" font-size="19" fill="#fff" textLength="21" lengthAdjust="spacingAndGlyphs">O2</text>
<circle cx="394.0" cy="509.0" r="14.5" fill="#7fc9bd" opacity=".6"/>
<circle cx="394.0" cy="509.0" r="13.5" fill="#1c9c88" />
<text x="394.0" y="503.5" text-anchor="middle" font-family="Liberation Serif, serif" font-style="italic" font-size="5.5" fill="#e8fffa">final</text>
<text x="394.0" y="517.5" text-anchor="middle" font-family="Liberation Serif, serif" font-size="19" fill="#fff" textLength="21" lengthAdjust="spacingAndGlyphs">O3</text>
<circle cx="801.0" cy="408.0" r="14.5" fill="#7fc9bd" opacity=".6"/>
<circle cx="801.0" cy="408.0" r="13.5" fill="#1c9c88" />
<text x="801.0" y="402.5" text-anchor="middle" font-family="Liberation Serif, serif" font-style="italic" font-size="5.5" fill="#e8fffa">final</text>
<text x="801.0" y="416.5" text-anchor="middle" font-family="Liberation Serif, serif" font-size="19" fill="#fff" textLength="21" lengthAdjust="spacingAndGlyphs">O1</text>
<g fill="none" stroke="#fff" stroke-width="2" stroke-linecap="round">
<circle cx="762.5" cy="528.5" r="1.9" fill="#fff" stroke="none"/>
<path d="M762.5 532v8h6.500000l3.500000 8M762.500000 536h5"/>
<path d="M759 537.5a7 7 0 1 0 10 8.500000"/>
</g>
<text x="642.5" y="93.5" font-family="Liberation Serif, serif" font-style="italic" font-size="21" fill="#1f1f1f" textLength="145.5" lengthAdjust="spacingAndGlyphs">Pavimentos Pares</text>
<text x="794" y="93.5" font-family="Liberation Serif, serif" font-style="italic" font-size="17.5" fill="#1f1f1f" textLength="187" lengthAdjust="spacingAndGlyphs">4, 6, 8, 10, 12, 14, 16, 18</text>
<path d="M1012.5 30.5 L1024.4 30.5 L1024.4 87 Q1024.4 89.6 1028 89.6 L1043 89.6 Q1046 89.4 1047.500000 87 L1049.500000 90.500000 Q1047 92 1043 92 L1012.5 92 L1012.5 91.3 Q1015.8 91 1015.8 88 L1015.8 34.500000 Q1015.8 31.500000 1012.5 31.2 Z" fill="#a8731f"/>
<path d="M1044.5 89.500000 q2.500000 -3.500000 5.500000 -2.500000 q2.500000 1.500000 0 4 q-2.500000 1.500000 -5.500000 -1.500000z" fill="#2aa79a"/>
<path d="M1050 51 L1062 51 L1062 76 C1062 86 1065.500000 91 1070.500000 91 C1075.500000 91 1079 86.500000 1082 80 L1082 83 C1079 90 1075 94 1069 94 C1059.500000 94 1054 88 1054 77 L1054 54.500000 Q1054 52 1050 51.800000 Z" fill="#a8731f"/>
<path d="M1078.5 51.0 L1090.0 51.0 L1090.0 89.5 Q1090.3 91.4 1093.0 91.6 L1093.0 92.0 L1079.0 92.0 L1079.0 91.6 Q1081.7 91.4 1082.0 89.5 L1082.0 54.5 Q1082.0 52.0 1078.5 51.8 Z" fill="#a8731f"/>
<path d="M1096.2 51.0 L1107.8 51.0 L1107.8 89.5 Q1108.1 91.4 1110.8 91.6 L1110.8 92.0 L1096.7 92.0 L1096.7 91.6 Q1099.4 91.4 1099.7 89.5 L1099.7 54.5 Q1099.7 52.0 1096.2 51.8 Z" fill="#a8731f"/>
<path d="M1126.6 62.0 L1134.7 62.0 L1134.7 89.5 Q1135.0 91.4 1137.7 91.6 L1137.7 92.0 L1123.6 92.0 L1123.6 91.6 Q1126.3 91.4 1126.6 89.5 Z" fill="#a8731f"/>
<path d="M1151.0 62.0 L1159.8 62.0 L1159.8 89.5 Q1160.1 91.4 1162.8 91.6 L1162.8 92.0 L1148.0 92.0 L1148.0 91.6 Q1150.7 91.4 1151.0 89.5 Z" fill="#a8731f"/>
<path d="M1107.8 63 C1110.8 56 1114.2 50.3 1120.2 50.3 C1131.7 50.3 1134.7 55 1134.7 66 L1126.6 66 C1126.1 58 1123.6 53.5 1118.2 52.9 C1114.2 53.3 1110.8 58 1107.8 65 Z" fill="#a8731f"/>
<path d="M1134.7 63 C1137.7 56 1139.8 50.3 1145.8 50.3 C1156.8 50.3 1159.8 55 1159.8 66 L1151.0 66 C1150.5 58 1148.0 53.5 1143.8 52.9 C1139.8 53.3 1137.7 58 1134.7 65 Z" fill="#a8731f"/>
<path d="M1164.9 51.0 L1176.4 51.0 L1176.4 89.5 Q1176.7 91.4 1179.4 91.6 L1179.4 92.0 L1165.4 92.0 L1165.4 91.6 Q1168.1 91.4 1168.4 89.5 L1168.4 54.5 Q1168.4 52.0 1164.9 51.8 Z" fill="#a8731f"/>
<path d="M1195.3 62.0 L1203.4 62.0 L1203.4 89.5 Q1203.7 91.4 1206.4 91.6 L1206.4 92.0 L1192.3 92.0 L1192.3 91.6 Q1195.0 91.4 1195.3 89.5 Z" fill="#a8731f"/>
<path d="M1221.7 62.0 L1229.7 62.0 L1229.7 89.5 Q1230.0 91.4 1232.7 91.6 L1232.7 92.0 L1218.7 92.0 L1218.7 91.6 Q1221.4 91.4 1221.7 89.5 Z" fill="#a8731f"/>
<path d="M1176.4 63 C1179.4 56 1182.8 50.3 1188.8 50.3 C1200.4 50.3 1203.4 55 1203.4 66 L1195.3 66 C1194.8 58 1192.3 53.5 1186.8 52.9 C1182.8 53.3 1179.4 58 1176.4 65 Z" fill="#a8731f"/>
<path d="M1203.4 63 C1206.4 56 1209.6 50.3 1215.6 50.3 C1226.7 50.3 1229.7 55 1229.7 66 L1221.7 66 C1221.2 58 1218.7 53.5 1213.6 52.9 C1209.6 53.3 1206.4 58 1203.4 65 Z" fill="#a8731f"/>
<path d="M1069 93.500000 C1078 93 1088 74 1098 63 C1105 55.500000 1110 52 1116 50.800000" fill="none" stroke="#a8731f" stroke-width="1.3"/>
<path d="M1080.500000 84 L1098 63.500000" fill="none" stroke="#f3dcae" stroke-width="1.1"/>
<path d="M1150 88 C1158 80 1166 68 1174 60 C1178 56 1181 53 1186 51" fill="none" stroke="#a8731f" stroke-width="1.2"/>
<path d="M1152.500000 85.500000 L1176 58" fill="none" stroke="#f3dcae" stroke-width="1.1"/>
<path d="M1266 61 C1263 54 1258 50.300000 1251.500000 50.300000 C1240.500000 50.300000 1233 59.500000 1233 72 C1233 85 1241 93.700000 1252 93.700000 C1259.500000 93.700000 1265 89.500000 1267.800000 82.300000 L1266.800000 81.800000 C1264 88 1259.500000 91.500000 1254.500000 91.500000 C1247 91.500000 1242.600000 84 1242.600000 72 C1242.600000 60 1246.500000 52 1253 52 C1258 52 1262.500000 55.500000 1265 61.500000 Z" fill="#a8731f"/>
<path d="M1265.500000 61 C1268.500000 68 1262 72.500000 1251 72" fill="none" stroke="#a8731f" stroke-width="1.1"/>
<path d="M1246.800000 69.500000 q2.500000 -2.500000 5 0 q1.500000 2 4 2.200000 q-4 2.500000 -7.500000 1 q-2.500000 -1.500000 -1.500000 -3.200000z" fill="#2aa79a"/>
<text x="80.5" y="48" text-anchor="middle" font-family="Liberation Sans, sans-serif" font-size="23" fill="#b0b0b0" textLength="16" lengthAdjust="spacingAndGlyphs">N</text>
<circle cx="80.5" cy="72.5" r="18.0" fill="none" stroke="#b3b3b3" stroke-width="1.3"/>
<path d="M73.5 66 l13.5 1.500000 -2.5 3.500000 6 6.500000 -6 5.500000 -6 -6.500000 -3.500000 2.500000z" fill="none" stroke="#b0b0b0" stroke-width="1.3" stroke-linejoin="round"/>
<circle cx="959.5" cy="642.5" r="9.6" fill="#c9a876" opacity=".55"/>
<circle cx="959.5" cy="642.5" r="8.8" fill="#a36b1c" />
<text x="959.5" y="646.9" text-anchor="middle" font-family="Liberation Serif, serif" font-size="13" fill="#f8e2b4" stroke="#f8e2b4" stroke-width=".35">1</text>
<text x="977" y="648.0" font-family="Liberation Serif, serif" font-size="17.5" fill="#1c1c1c" stroke="#1c1c1c" stroke-width=".25" textLength="287" lengthAdjust="spacingAndGlyphs">Guarda volumes - apartamento final 01</text>
<circle cx="959.5" cy="673.5" r="9.6" fill="#c9a876" opacity=".55"/>
<circle cx="959.5" cy="673.5" r="8.8" fill="#a36b1c" />
<text x="959.5" y="677.9" text-anchor="middle" font-family="Liberation Serif, serif" font-size="13" fill="#f8e2b4" stroke="#f8e2b4" stroke-width=".35">2</text>
<text x="977" y="679.0" font-family="Liberation Serif, serif" font-size="17.5" fill="#1c1c1c" stroke="#1c1c1c" stroke-width=".25" textLength="289" lengthAdjust="spacingAndGlyphs">Guarda volumes - apartamento final 02</text>
<circle cx="959.5" cy="704.5" r="9.6" fill="#c9a876" opacity=".55"/>
<circle cx="959.5" cy="704.5" r="8.8" fill="#a36b1c" />
<text x="959.5" y="708.9" text-anchor="middle" font-family="Liberation Serif, serif" font-size="13" fill="#f8e2b4" stroke="#f8e2b4" stroke-width=".35">3</text>
<text x="977" y="710.0" font-family="Liberation Serif, serif" font-size="17.5" fill="#1c1c1c" stroke="#1c1c1c" stroke-width=".25" textLength="289" lengthAdjust="spacingAndGlyphs">Guarda volumes - apartamento final 03</text>
<circle cx="959.5" cy="735.5" r="9.6" fill="#c9a876" opacity=".55"/>
<circle cx="959.5" cy="735.5" r="8.8" fill="#a36b1c" />
<text x="959.5" y="739.9" text-anchor="middle" font-family="Liberation Serif, serif" font-size="13" fill="#f8e2b4" stroke="#f8e2b4" stroke-width=".35">4</text>
<text x="977" y="741.0" font-family="Liberation Serif, serif" font-size="17.5" fill="#1c1c1c" stroke="#1c1c1c" stroke-width=".25" textLength="80" lengthAdjust="spacingAndGlyphs">Circulação</text>
<circle cx="959.5" cy="766.5" r="9.6" fill="#c9a876" opacity=".55"/>
<circle cx="959.5" cy="766.5" r="8.8" fill="#a36b1c" />
<text x="959.5" y="770.9" text-anchor="middle" font-family="Liberation Serif, serif" font-size="13" fill="#f8e2b4" stroke="#f8e2b4" stroke-width=".35">5</text>
<text x="977" y="772.0" font-family="Liberation Serif, serif" font-size="17.5" fill="#1c1c1c" stroke="#1c1c1c" stroke-width=".25" textLength="65" lengthAdjust="spacingAndGlyphs">Elevador</text>
<circle cx="959.5" cy="797.5" r="9.6" fill="#c9a876" opacity=".55"/>
<circle cx="959.5" cy="797.5" r="8.8" fill="#a36b1c" />
<text x="959.5" y="801.9" text-anchor="middle" font-family="Liberation Serif, serif" font-size="13" fill="#f8e2b4" stroke="#f8e2b4" stroke-width=".35">6</text>
<text x="977" y="803.0" font-family="Liberation Serif, serif" font-size="17.5" fill="#1c1c1c" stroke="#1c1c1c" stroke-width=".25" textLength="79" lengthAdjust="spacingAndGlyphs">Escadarias</text>
<g fill="none" stroke-width=".9">
<path d="M1014.7 886.500000v-25" stroke="#9a9a9a"/>
<path d="M1018.4 887v-33.500000" stroke="#777"/>
<path d="M1021.8 887.500000v-36.500000l2.500000 -.800000" stroke="#555"/>
<path d="M1040.5 888v-27.500000" stroke="#333"/>
<path d="M1023.5 857.7L1027.5 855.5L1040.300000 860.5" stroke="#3a3a3a" stroke-width="1"/>
<path d="M1023.5 861.8L1027.5 859.6L1040.300000 864.6" stroke="#3a3a3a" stroke-width="1"/>
<path d="M1023.5 865.9L1027.5 863.7L1040.300000 868.7" stroke="#3a3a3a" stroke-width="1"/>
<path d="M1023.5 870.0L1027.5 867.8L1040.300000 872.8" stroke="#3a3a3a" stroke-width="1"/>
<path d="M1023.5 874.1L1027.5 871.9L1040.300000 876.9" stroke="#3a3a3a" stroke-width="1"/>
<path d="M1023.5 878.2L1027.5 876.0L1040.300000 881.0" stroke="#3a3a3a" stroke-width="1"/>
<path d="M1023.5 882.3L1027.5 880.1L1040.300000 885.1" stroke="#3a3a3a" stroke-width="1"/>
<path d="M1023.5 886.4L1027.5 884.2L1040.300000 889.2" stroke="#3a3a3a" stroke-width="1"/>
</g>
<text x="1050.5" y="881.8" font-family="Liberation Sans, sans-serif" font-weight="bold" font-size="18.5" fill="#1c1c1c" textLength="171" lengthAdjust="spacingAndGlyphs">GASPERIN PILATTI</text>
<g fill="none" stroke="#8ea3bf" stroke-width="1.2" stroke-linejoin="round">
<path d="M1229 859.500000L1239 855.500000V887.500000"/>
<path d="M1259.500000 850.500000L1247.500000 856V866.500000A12.500000 12.500000 0 1 1 1244.500000 881.500000"/>
</g>
<text x="1255.5" y="877" text-anchor="middle" font-family="Liberation Sans, sans-serif" font-size="5" fill="#8ea3bf">ANOS</text>
</svg></body></html>
